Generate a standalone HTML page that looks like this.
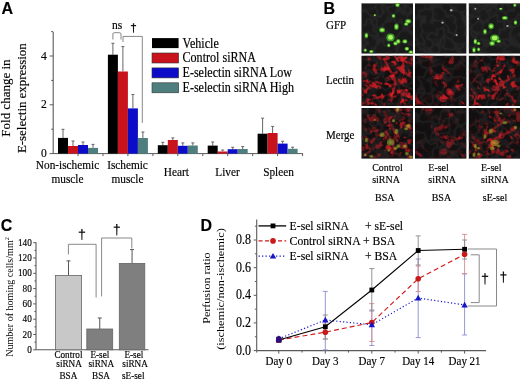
<!DOCTYPE html>
<html><head><meta charset="utf-8"><style>
html,body{margin:0;padding:0;background:#fff;}
svg{display:block;filter:blur(0.3px);}
text{stroke:#000;stroke-width:0.15px;}
</style></head><body>
<svg width="520" height="381" viewBox="0 0 520 381">
<rect width="520" height="381" fill="#fff"/>
<text transform="translate(1.5,14.3) scale(0.1,0.1000)" font-size="160.0" text-anchor="start" font-family="Liberation Sans, sans-serif" font-weight="bold" fill="#000" style="stroke-width:1.50px" >A</text>
<line x1="53.2" y1="32" x2="53.2" y2="154.1" stroke="#5a5a5a" stroke-width="1.1" />
<line x1="49.7" y1="153.6" x2="53.2" y2="153.6" stroke="#5a5a5a" stroke-width="1" />
<text transform="translate(46.8,157.2) scale(0.1,0.1130)" font-size="116.0" text-anchor="end" font-family="Liberation Serif, serif" font-weight="normal" fill="#000" style="stroke-width:1.50px" >0</text>
<line x1="51.2" y1="129.2" x2="53.2" y2="129.2" stroke="#5a5a5a" stroke-width="1" />
<line x1="49.7" y1="104.8" x2="53.2" y2="104.8" stroke="#5a5a5a" stroke-width="1" />
<text transform="translate(46.8,108.39999999999999) scale(0.1,0.1130)" font-size="116.0" text-anchor="end" font-family="Liberation Serif, serif" font-weight="normal" fill="#000" style="stroke-width:1.50px" >2</text>
<line x1="51.2" y1="80.4" x2="53.2" y2="80.4" stroke="#5a5a5a" stroke-width="1" />
<line x1="49.7" y1="56.0" x2="53.2" y2="56.0" stroke="#5a5a5a" stroke-width="1" />
<text transform="translate(46.8,59.6) scale(0.1,0.1130)" font-size="116.0" text-anchor="end" font-family="Liberation Serif, serif" font-weight="normal" fill="#000" style="stroke-width:1.50px" >4</text>
<line x1="51.2" y1="31.599999999999994" x2="53.2" y2="31.599999999999994" stroke="#5a5a5a" stroke-width="1" />
<line x1="53.2" y1="153.6" x2="303" y2="153.6" stroke="#5a5a5a" stroke-width="1" />
<line x1="78.0" y1="153.6" x2="78.0" y2="156.1" stroke="#5a5a5a" stroke-width="1" />
<line x1="103.0" y1="153.6" x2="103.0" y2="156.1" stroke="#5a5a5a" stroke-width="1" />
<line x1="127.9" y1="153.6" x2="127.9" y2="156.1" stroke="#5a5a5a" stroke-width="1" />
<line x1="152.9" y1="153.6" x2="152.9" y2="156.1" stroke="#5a5a5a" stroke-width="1" />
<line x1="177.8" y1="153.6" x2="177.8" y2="156.1" stroke="#5a5a5a" stroke-width="1" />
<line x1="202.8" y1="153.6" x2="202.8" y2="156.1" stroke="#5a5a5a" stroke-width="1" />
<line x1="227.7" y1="153.6" x2="227.7" y2="156.1" stroke="#5a5a5a" stroke-width="1" />
<line x1="252.7" y1="153.6" x2="252.7" y2="156.1" stroke="#5a5a5a" stroke-width="1" />
<line x1="277.6" y1="153.6" x2="277.6" y2="156.1" stroke="#5a5a5a" stroke-width="1" />
<line x1="302.6" y1="153.6" x2="302.6" y2="156.1" stroke="#5a5a5a" stroke-width="1" />
<line x1="63.0" y1="129.3" x2="63.0" y2="137.9" stroke="#666" stroke-width="1" />
<line x1="61.5" y1="129.3" x2="64.5" y2="129.3" stroke="#666" stroke-width="1" />
<rect x="58.0" y="137.9" width="10" height="15.699999999999989" fill="#000000" stroke="none" stroke-width="0"/>
<line x1="73.0" y1="141" x2="73.0" y2="146" stroke="#666" stroke-width="1" />
<line x1="71.5" y1="141" x2="74.5" y2="141" stroke="#666" stroke-width="1" />
<rect x="68.0" y="146" width="10" height="7.599999999999994" fill="#c8121c" stroke="none" stroke-width="0"/>
<line x1="83.0" y1="142" x2="83.0" y2="145" stroke="#666" stroke-width="1" />
<line x1="81.5" y1="142" x2="84.5" y2="142" stroke="#666" stroke-width="1" />
<rect x="78.0" y="145" width="10" height="8.599999999999994" fill="#0c0cc8" stroke="none" stroke-width="0"/>
<line x1="93.0" y1="144.4" x2="93.0" y2="147.9" stroke="#666" stroke-width="1" />
<line x1="91.5" y1="144.4" x2="94.5" y2="144.4" stroke="#666" stroke-width="1" />
<rect x="88.0" y="147.9" width="10" height="5.699999999999989" fill="#4f7e7e" stroke="none" stroke-width="0"/>
<line x1="112.9" y1="43.3" x2="112.9" y2="54.7" stroke="#666" stroke-width="1" />
<line x1="111.4" y1="43.3" x2="114.4" y2="43.3" stroke="#666" stroke-width="1" />
<rect x="107.9" y="54.7" width="10" height="98.89999999999999" fill="#000000" stroke="none" stroke-width="0"/>
<line x1="122.9" y1="46.6" x2="122.9" y2="71.5" stroke="#666" stroke-width="1" />
<line x1="121.4" y1="46.6" x2="124.4" y2="46.6" stroke="#666" stroke-width="1" />
<rect x="117.9" y="71.5" width="10" height="82.1" fill="#c8121c" stroke="none" stroke-width="0"/>
<line x1="132.9" y1="94.5" x2="132.9" y2="108.4" stroke="#666" stroke-width="1" />
<line x1="131.4" y1="94.5" x2="134.4" y2="94.5" stroke="#666" stroke-width="1" />
<rect x="127.9" y="108.4" width="10" height="45.19999999999999" fill="#0c0cc8" stroke="none" stroke-width="0"/>
<line x1="142.9" y1="132" x2="142.9" y2="138" stroke="#666" stroke-width="1" />
<line x1="141.4" y1="132" x2="144.4" y2="132" stroke="#666" stroke-width="1" />
<rect x="137.9" y="138" width="10" height="15.599999999999994" fill="#4f7e7e" stroke="none" stroke-width="0"/>
<line x1="162.8" y1="142.3" x2="162.8" y2="145.2" stroke="#666" stroke-width="1" />
<line x1="161.3" y1="142.3" x2="164.3" y2="142.3" stroke="#666" stroke-width="1" />
<rect x="157.8" y="145.2" width="10" height="8.400000000000006" fill="#000000" stroke="none" stroke-width="0"/>
<line x1="172.8" y1="137.9" x2="172.8" y2="140" stroke="#666" stroke-width="1" />
<line x1="171.3" y1="137.9" x2="174.3" y2="137.9" stroke="#666" stroke-width="1" />
<rect x="167.8" y="140" width="10" height="13.599999999999994" fill="#c8121c" stroke="none" stroke-width="0"/>
<line x1="182.8" y1="142.9" x2="182.8" y2="145.8" stroke="#666" stroke-width="1" />
<line x1="181.3" y1="142.9" x2="184.3" y2="142.9" stroke="#666" stroke-width="1" />
<rect x="177.8" y="145.8" width="10" height="7.799999999999983" fill="#0c0cc8" stroke="none" stroke-width="0"/>
<line x1="192.8" y1="142.9" x2="192.8" y2="145.5" stroke="#666" stroke-width="1" />
<line x1="191.3" y1="142.9" x2="194.3" y2="142.9" stroke="#666" stroke-width="1" />
<rect x="187.8" y="145.5" width="10" height="8.099999999999994" fill="#4f7e7e" stroke="none" stroke-width="0"/>
<line x1="212.7" y1="142" x2="212.7" y2="145.6" stroke="#666" stroke-width="1" />
<line x1="211.2" y1="142" x2="214.2" y2="142" stroke="#666" stroke-width="1" />
<rect x="207.7" y="145.6" width="10" height="8.0" fill="#000000" stroke="none" stroke-width="0"/>
<line x1="222.7" y1="150" x2="222.7" y2="151.5" stroke="#666" stroke-width="1" />
<line x1="221.2" y1="150" x2="224.2" y2="150" stroke="#666" stroke-width="1" />
<rect x="217.7" y="151.5" width="10" height="2.0999999999999943" fill="#c8121c" stroke="none" stroke-width="0"/>
<line x1="232.7" y1="147.3" x2="232.7" y2="149.2" stroke="#666" stroke-width="1" />
<line x1="231.2" y1="147.3" x2="234.2" y2="147.3" stroke="#666" stroke-width="1" />
<rect x="227.7" y="149.2" width="10" height="4.400000000000006" fill="#0c0cc8" stroke="none" stroke-width="0"/>
<line x1="242.7" y1="146.6" x2="242.7" y2="149" stroke="#666" stroke-width="1" />
<line x1="241.2" y1="146.6" x2="244.2" y2="146.6" stroke="#666" stroke-width="1" />
<rect x="237.7" y="149" width="10" height="4.599999999999994" fill="#4f7e7e" stroke="none" stroke-width="0"/>
<line x1="262.6" y1="118.2" x2="262.6" y2="133.7" stroke="#666" stroke-width="1" />
<line x1="261.1" y1="118.2" x2="264.1" y2="118.2" stroke="#666" stroke-width="1" />
<rect x="257.6" y="133.7" width="10" height="19.900000000000006" fill="#000000" stroke="none" stroke-width="0"/>
<line x1="272.6" y1="126.4" x2="272.6" y2="133" stroke="#666" stroke-width="1" />
<line x1="271.1" y1="126.4" x2="274.1" y2="126.4" stroke="#666" stroke-width="1" />
<rect x="267.6" y="133" width="10" height="20.599999999999994" fill="#c8121c" stroke="none" stroke-width="0"/>
<line x1="282.6" y1="141.3" x2="282.6" y2="143.6" stroke="#666" stroke-width="1" />
<line x1="281.1" y1="141.3" x2="284.1" y2="141.3" stroke="#666" stroke-width="1" />
<rect x="277.6" y="143.6" width="10" height="10.0" fill="#0c0cc8" stroke="none" stroke-width="0"/>
<line x1="292.6" y1="147.2" x2="292.6" y2="148.8" stroke="#666" stroke-width="1" />
<line x1="291.1" y1="147.2" x2="294.1" y2="147.2" stroke="#666" stroke-width="1" />
<rect x="287.6" y="148.8" width="10" height="4.799999999999983" fill="#4f7e7e" stroke="none" stroke-width="0"/>
<path d="M112.9,39.5 V34 Q112.9,32.7 114.2,32.7 H119.7 Q121,32.7 121,34 V39.5" fill="none" stroke="#888" stroke-width="1"/>
<path d="M123,42 V36.4 H142.3 V123" fill="none" stroke="#888" stroke-width="1"/>
<text transform="translate(117,28.7) scale(0.1,0.1130)" font-size="115.0" text-anchor="middle" font-family="Liberation Serif, serif" font-weight="normal" fill="#000" style="stroke-width:1.50px" >ns</text>
<path d="M132.85,23.3 H134.15 L133.96,32.8 H133.04 Z" fill="#111"/>
<rect x="130.90" y="25.00" width="5.20" height="1.2" fill="#111"/>
<text transform="translate(67.5,168.5) scale(0.1,0.1130)" font-size="113.0" text-anchor="middle" font-family="Liberation Serif, serif" font-weight="normal" fill="#000" style="stroke-width:1.50px" >Non-ischemic</text>
<text transform="translate(67.5,182.5) scale(0.1,0.1130)" font-size="113.0" text-anchor="middle" font-family="Liberation Serif, serif" font-weight="normal" fill="#000" style="stroke-width:1.50px" >muscle</text>
<text transform="translate(127.5,168.5) scale(0.1,0.1130)" font-size="113.0" text-anchor="middle" font-family="Liberation Serif, serif" font-weight="normal" fill="#000" style="stroke-width:1.50px" >Ischemic</text>
<text transform="translate(127.5,182.5) scale(0.1,0.1130)" font-size="113.0" text-anchor="middle" font-family="Liberation Serif, serif" font-weight="normal" fill="#000" style="stroke-width:1.50px" >muscle</text>
<text transform="translate(176.4,175.5) scale(0.1,0.1130)" font-size="113.0" text-anchor="middle" font-family="Liberation Serif, serif" font-weight="normal" fill="#000" style="stroke-width:1.50px" >Heart</text>
<text transform="translate(227.5,175.5) scale(0.1,0.1130)" font-size="113.0" text-anchor="middle" font-family="Liberation Serif, serif" font-weight="normal" fill="#000" style="stroke-width:1.50px" >Liver</text>
<text transform="translate(278.5,175.5) scale(0.1,0.1130)" font-size="113.0" text-anchor="middle" font-family="Liberation Serif, serif" font-weight="normal" fill="#000" style="stroke-width:1.50px" >Spleen</text>
<text transform="translate(9.9,98.1) scale(0.1,0.1075) rotate(-90)" font-size="121.0" text-anchor="middle" font-family="Liberation Serif, serif" style="stroke-width:1.50px" >Fold change in</text>
<text transform="translate(26.1,98.2) scale(0.1,0.1065) rotate(-90)" font-size="121.0" text-anchor="middle" font-family="Liberation Serif, serif" style="stroke-width:1.50px" >E-selectin expression</text>
<rect x="152" y="38.1" width="26.6" height="10" fill="#000000" stroke="none" stroke-width="0"/>
<text transform="translate(182.5,47.5) scale(0.1,0.1130)" font-size="121.0" text-anchor="start" font-family="Liberation Serif, serif" font-weight="normal" fill="#000" style="stroke-width:1.50px" >Vehicle</text>
<rect x="152" y="53.0" width="26.6" height="10" fill="#c8121c" stroke="#333" stroke-width="0.6"/>
<text transform="translate(182.5,62.4) scale(0.1,0.1130)" font-size="121.0" text-anchor="start" font-family="Liberation Serif, serif" font-weight="normal" fill="#000" style="stroke-width:1.50px" >Control siRNA</text>
<rect x="152" y="67.9" width="26.6" height="10" fill="#0c0cc8" stroke="#333" stroke-width="0.6"/>
<text transform="translate(182.5,77.30000000000001) scale(0.1,0.1130)" font-size="121.0" text-anchor="start" font-family="Liberation Serif, serif" font-weight="normal" fill="#000" style="stroke-width:1.50px" >E-selectin siRNA Low</text>
<rect x="152" y="82.80000000000001" width="26.6" height="10" fill="#4f7e7e" stroke="#333" stroke-width="0.6"/>
<text transform="translate(182.5,92.20000000000002) scale(0.1,0.1130)" font-size="121.0" text-anchor="start" font-family="Liberation Serif, serif" font-weight="normal" fill="#000" style="stroke-width:1.50px" >E-selectin siRNA High</text>
<text transform="translate(323.5,14) scale(0.1,0.1000)" font-size="160.0" text-anchor="start" font-family="Liberation Sans, sans-serif" font-weight="bold" fill="#000" style="stroke-width:1.50px" >B</text>
<text transform="translate(326,29.1) scale(0.1,0.1130)" font-size="110.0" text-anchor="start" font-family="Liberation Serif, serif" font-weight="normal" fill="#000" style="stroke-width:1.50px" >GFP</text>
<text transform="translate(326,84) scale(0.1,0.1130)" font-size="110.0" text-anchor="start" font-family="Liberation Serif, serif" font-weight="normal" fill="#000" style="stroke-width:1.50px" >Lectin</text>
<text transform="translate(326,138.5) scale(0.1,0.1130)" font-size="110.0" text-anchor="start" font-family="Liberation Serif, serif" font-weight="normal" fill="#000" style="stroke-width:1.50px" >Merge</text>
<defs>\n<filter id="soft2" x="-20%" y="-20%" width="140%" height="140%"><feGaussianBlur stdDeviation="0.5"/></filter>\n<filter id="mblur" x="-20%" y="-20%" width="140%" height="140%"><feGaussianBlur stdDeviation="2.2"/></filter>\n<clipPath id="cp00"><rect x="361.3" y="3.2" width="51.7" height="50.5"/></clipPath>\n<clipPath id="cp10"><rect x="361.3" y="55.5" width="51.7" height="50.5"/></clipPath>\n<clipPath id="cp20"><rect x="361.3" y="108" width="51.7" height="50.8"/></clipPath>\n<mask id="mk10" maskUnits="userSpaceOnUse" x="356.3" y="50.5" width="61.7" height="60.5"><g filter="url(#mblur)">\n<rect x="360.8" y="55.0" width="7.5" height="7.3" fill="#fff" opacity="0.55"/>\n<rect x="367.3" y="55.0" width="7.5" height="7.3" fill="#fff" opacity="0.36"/>\n<rect x="373.7" y="55.0" width="7.5" height="7.3" fill="#fff" opacity="0.36"/>\n<rect x="380.2" y="55.0" width="7.5" height="7.3" fill="#fff" opacity="0.73"/>\n<rect x="386.7" y="55.0" width="7.5" height="7.3" fill="#fff" opacity="0.55"/>\n<rect x="393.1" y="55.0" width="7.5" height="7.3" fill="#fff" opacity="0.91"/>\n<rect x="399.6" y="55.0" width="7.5" height="7.3" fill="#fff" opacity="0.91"/>\n<rect x="406.0" y="55.0" width="7.5" height="7.3" fill="#fff" opacity="0.73"/>\n<rect x="360.8" y="61.3" width="7.5" height="7.3" fill="#fff" opacity="0.36"/>\n<rect x="367.3" y="61.3" width="7.5" height="7.3" fill="#fff" opacity="0.55"/>\n<rect x="373.7" y="61.3" width="7.5" height="7.3" fill="#fff" opacity="0.55"/>\n<rect x="380.2" y="61.3" width="7.5" height="7.3" fill="#fff" opacity="0.91"/>\n<rect x="386.7" y="61.3" width="7.5" height="7.3" fill="#fff" opacity="0.73"/>\n<rect x="393.1" y="61.3" width="7.5" height="7.3" fill="#fff" opacity="0.55"/>\n<rect x="399.6" y="61.3" width="7.5" height="7.3" fill="#fff" opacity="0.55"/>\n<rect x="406.0" y="61.3" width="7.5" height="7.3" fill="#fff" opacity="0.73"/>\n<rect x="360.8" y="67.6" width="7.5" height="7.3" fill="#fff" opacity="0.55"/>\n<rect x="367.3" y="67.6" width="7.5" height="7.3" fill="#fff" opacity="0.73"/>\n<rect x="373.7" y="67.6" width="7.5" height="7.3" fill="#fff" opacity="0.36"/>\n<rect x="380.2" y="67.6" width="7.5" height="7.3" fill="#fff" opacity="0.55"/>\n<rect x="386.7" y="67.6" width="7.5" height="7.3" fill="#fff" opacity="0.91"/>\n<rect x="393.1" y="67.6" width="7.5" height="7.3" fill="#fff" opacity="0.55"/>\n<rect x="399.6" y="67.6" width="7.5" height="7.3" fill="#fff" opacity="0.91"/>\n<rect x="406.0" y="67.6" width="7.5" height="7.3" fill="#fff" opacity="0.73"/>\n<rect x="360.8" y="73.9" width="7.5" height="7.3" fill="#fff" opacity="0.36"/>\n<rect x="367.3" y="73.9" width="7.5" height="7.3" fill="#fff" opacity="0.55"/>\n<rect x="373.7" y="73.9" width="7.5" height="7.3" fill="#fff" opacity="0.55"/>\n<rect x="380.2" y="73.9" width="7.5" height="7.3" fill="#fff" opacity="0.55"/>\n<rect x="386.7" y="73.9" width="7.5" height="7.3" fill="#fff" opacity="1.00"/>\n<rect x="393.1" y="73.9" width="7.5" height="7.3" fill="#fff" opacity="0.73"/>\n<rect x="399.6" y="73.9" width="7.5" height="7.3" fill="#fff" opacity="0.55"/>\n<rect x="406.0" y="73.9" width="7.5" height="7.3" fill="#fff" opacity="0.55"/>\n<rect x="360.8" y="80.2" width="7.5" height="7.3" fill="#fff" opacity="0.91"/>\n<rect x="367.3" y="80.2" width="7.5" height="7.3" fill="#fff" opacity="0.55"/>\n<rect x="373.7" y="80.2" width="7.5" height="7.3" fill="#fff" opacity="0.91"/>\n<rect x="380.2" y="80.2" width="7.5" height="7.3" fill="#fff" opacity="0.55"/>\n<rect x="386.7" y="80.2" width="7.5" height="7.3" fill="#fff" opacity="0.91"/>\n<rect x="393.1" y="80.2" width="7.5" height="7.3" fill="#fff" opacity="0.55"/>\n<rect x="399.6" y="80.2" width="7.5" height="7.3" fill="#fff" opacity="0.73"/>\n<rect x="406.0" y="80.2" width="7.5" height="7.3" fill="#fff" opacity="0.73"/>\n<rect x="360.8" y="86.6" width="7.5" height="7.3" fill="#fff" opacity="0.73"/>\n<rect x="367.3" y="86.6" width="7.5" height="7.3" fill="#fff" opacity="0.73"/>\n<rect x="373.7" y="86.6" width="7.5" height="7.3" fill="#fff" opacity="0.55"/>\n<rect x="380.2" y="86.6" width="7.5" height="7.3" fill="#fff" opacity="0.73"/>\n<rect x="386.7" y="86.6" width="7.5" height="7.3" fill="#fff" opacity="0.91"/>\n<rect x="393.1" y="86.6" width="7.5" height="7.3" fill="#fff" opacity="0.73"/>\n<rect x="399.6" y="86.6" width="7.5" height="7.3" fill="#fff" opacity="1.00"/>\n<rect x="406.0" y="86.6" width="7.5" height="7.3" fill="#fff" opacity="0.73"/>\n<rect x="360.8" y="92.9" width="7.5" height="7.3" fill="#fff" opacity="0.55"/>\n<rect x="367.3" y="92.9" width="7.5" height="7.3" fill="#fff" opacity="0.91"/>\n<rect x="373.7" y="92.9" width="7.5" height="7.3" fill="#fff" opacity="0.55"/>\n<rect x="380.2" y="92.9" width="7.5" height="7.3" fill="#fff" opacity="0.73"/>\n<rect x="386.7" y="92.9" width="7.5" height="7.3" fill="#fff" opacity="1.00"/>\n<rect x="393.1" y="92.9" width="7.5" height="7.3" fill="#fff" opacity="0.73"/>\n<rect x="399.6" y="92.9" width="7.5" height="7.3" fill="#fff" opacity="1.00"/>\n<rect x="406.0" y="92.9" width="7.5" height="7.3" fill="#fff" opacity="0.73"/>\n<rect x="360.8" y="99.2" width="7.5" height="7.3" fill="#fff" opacity="0.73"/>\n<rect x="367.3" y="99.2" width="7.5" height="7.3" fill="#fff" opacity="0.55"/>\n<rect x="373.7" y="99.2" width="7.5" height="7.3" fill="#fff" opacity="0.73"/>\n<rect x="380.2" y="99.2" width="7.5" height="7.3" fill="#fff" opacity="0.55"/>\n<rect x="386.7" y="99.2" width="7.5" height="7.3" fill="#fff" opacity="0.55"/>\n<rect x="393.1" y="99.2" width="7.5" height="7.3" fill="#fff" opacity="0.55"/>\n<rect x="399.6" y="99.2" width="7.5" height="7.3" fill="#fff" opacity="0.73"/>\n<rect x="406.0" y="99.2" width="7.5" height="7.3" fill="#fff" opacity="0.91"/>\n</g></mask>\n<mask id="mk20" maskUnits="userSpaceOnUse" x="356.3" y="103" width="61.7" height="60.8"><g filter="url(#mblur)">\n<rect x="360.8" y="107.5" width="7.5" height="7.3" fill="#fff" opacity="0.37"/>\n<rect x="367.3" y="107.5" width="7.5" height="7.3" fill="#fff" opacity="0.25"/>\n<rect x="373.7" y="107.5" width="7.5" height="7.3" fill="#fff" opacity="0.25"/>\n<rect x="380.2" y="107.5" width="7.5" height="7.3" fill="#fff" opacity="0.49"/>\n<rect x="386.7" y="107.5" width="7.5" height="7.3" fill="#fff" opacity="0.37"/>\n<rect x="393.1" y="107.5" width="7.5" height="7.3" fill="#fff" opacity="0.62"/>\n<rect x="399.6" y="107.5" width="7.5" height="7.3" fill="#fff" opacity="0.62"/>\n<rect x="406.0" y="107.5" width="7.5" height="7.3" fill="#fff" opacity="0.49"/>\n<rect x="360.8" y="113.8" width="7.5" height="7.3" fill="#fff" opacity="0.25"/>\n<rect x="367.3" y="113.8" width="7.5" height="7.3" fill="#fff" opacity="0.37"/>\n<rect x="373.7" y="113.8" width="7.5" height="7.3" fill="#fff" opacity="0.37"/>\n<rect x="380.2" y="113.8" width="7.5" height="7.3" fill="#fff" opacity="0.62"/>\n<rect x="386.7" y="113.8" width="7.5" height="7.3" fill="#fff" opacity="0.49"/>\n<rect x="393.1" y="113.8" width="7.5" height="7.3" fill="#fff" opacity="0.37"/>\n<rect x="399.6" y="113.8" width="7.5" height="7.3" fill="#fff" opacity="0.37"/>\n<rect x="406.0" y="113.8" width="7.5" height="7.3" fill="#fff" opacity="0.49"/>\n<rect x="360.8" y="120.2" width="7.5" height="7.3" fill="#fff" opacity="0.37"/>\n<rect x="367.3" y="120.2" width="7.5" height="7.3" fill="#fff" opacity="0.49"/>\n<rect x="373.7" y="120.2" width="7.5" height="7.3" fill="#fff" opacity="0.25"/>\n<rect x="380.2" y="120.2" width="7.5" height="7.3" fill="#fff" opacity="0.37"/>\n<rect x="386.7" y="120.2" width="7.5" height="7.3" fill="#fff" opacity="0.62"/>\n<rect x="393.1" y="120.2" width="7.5" height="7.3" fill="#fff" opacity="0.37"/>\n<rect x="399.6" y="120.2" width="7.5" height="7.3" fill="#fff" opacity="0.62"/>\n<rect x="406.0" y="120.2" width="7.5" height="7.3" fill="#fff" opacity="0.49"/>\n<rect x="360.8" y="126.5" width="7.5" height="7.3" fill="#fff" opacity="0.25"/>\n<rect x="367.3" y="126.5" width="7.5" height="7.3" fill="#fff" opacity="0.37"/>\n<rect x="373.7" y="126.5" width="7.5" height="7.3" fill="#fff" opacity="0.37"/>\n<rect x="380.2" y="126.5" width="7.5" height="7.3" fill="#fff" opacity="0.37"/>\n<rect x="386.7" y="126.5" width="7.5" height="7.3" fill="#fff" opacity="0.74"/>\n<rect x="393.1" y="126.5" width="7.5" height="7.3" fill="#fff" opacity="0.49"/>\n<rect x="399.6" y="126.5" width="7.5" height="7.3" fill="#fff" opacity="0.37"/>\n<rect x="406.0" y="126.5" width="7.5" height="7.3" fill="#fff" opacity="0.37"/>\n<rect x="360.8" y="132.9" width="7.5" height="7.3" fill="#fff" opacity="0.62"/>\n<rect x="367.3" y="132.9" width="7.5" height="7.3" fill="#fff" opacity="0.37"/>\n<rect x="373.7" y="132.9" width="7.5" height="7.3" fill="#fff" opacity="0.62"/>\n<rect x="380.2" y="132.9" width="7.5" height="7.3" fill="#fff" opacity="0.37"/>\n<rect x="386.7" y="132.9" width="7.5" height="7.3" fill="#fff" opacity="0.62"/>\n<rect x="393.1" y="132.9" width="7.5" height="7.3" fill="#fff" opacity="0.37"/>\n<rect x="399.6" y="132.9" width="7.5" height="7.3" fill="#fff" opacity="0.49"/>\n<rect x="406.0" y="132.9" width="7.5" height="7.3" fill="#fff" opacity="0.49"/>\n<rect x="360.8" y="139.2" width="7.5" height="7.3" fill="#fff" opacity="0.49"/>\n<rect x="367.3" y="139.2" width="7.5" height="7.3" fill="#fff" opacity="0.49"/>\n<rect x="373.7" y="139.2" width="7.5" height="7.3" fill="#fff" opacity="0.37"/>\n<rect x="380.2" y="139.2" width="7.5" height="7.3" fill="#fff" opacity="0.49"/>\n<rect x="386.7" y="139.2" width="7.5" height="7.3" fill="#fff" opacity="0.62"/>\n<rect x="393.1" y="139.2" width="7.5" height="7.3" fill="#fff" opacity="0.49"/>\n<rect x="399.6" y="139.2" width="7.5" height="7.3" fill="#fff" opacity="0.74"/>\n<rect x="406.0" y="139.2" width="7.5" height="7.3" fill="#fff" opacity="0.49"/>\n<rect x="360.8" y="145.6" width="7.5" height="7.3" fill="#fff" opacity="0.37"/>\n<rect x="367.3" y="145.6" width="7.5" height="7.3" fill="#fff" opacity="0.62"/>\n<rect x="373.7" y="145.6" width="7.5" height="7.3" fill="#fff" opacity="0.37"/>\n<rect x="380.2" y="145.6" width="7.5" height="7.3" fill="#fff" opacity="0.49"/>\n<rect x="386.7" y="145.6" width="7.5" height="7.3" fill="#fff" opacity="0.74"/>\n<rect x="393.1" y="145.6" width="7.5" height="7.3" fill="#fff" opacity="0.49"/>\n<rect x="399.6" y="145.6" width="7.5" height="7.3" fill="#fff" opacity="0.74"/>\n<rect x="406.0" y="145.6" width="7.5" height="7.3" fill="#fff" opacity="0.49"/>\n<rect x="360.8" y="151.9" width="7.5" height="7.3" fill="#fff" opacity="0.49"/>\n<rect x="367.3" y="151.9" width="7.5" height="7.3" fill="#fff" opacity="0.37"/>\n<rect x="373.7" y="151.9" width="7.5" height="7.3" fill="#fff" opacity="0.49"/>\n<rect x="380.2" y="151.9" width="7.5" height="7.3" fill="#fff" opacity="0.37"/>\n<rect x="386.7" y="151.9" width="7.5" height="7.3" fill="#fff" opacity="0.37"/>\n<rect x="393.1" y="151.9" width="7.5" height="7.3" fill="#fff" opacity="0.37"/>\n<rect x="399.6" y="151.9" width="7.5" height="7.3" fill="#fff" opacity="0.49"/>\n<rect x="406.0" y="151.9" width="7.5" height="7.3" fill="#fff" opacity="0.62"/>\n</g></mask>\n<filter id="net0" x="0" y="0" width="100%" height="100%" color-interpolation-filters="sRGB">
<feTurbulence type="fractalNoise" baseFrequency="0.072" numOctaves="3" seed="3"/>
<feColorMatrix type="matrix" values="0 0 0 0 0.92  0 0 0 0 0.12  0 0 0 0 0.15  1 0 0 0 0"/>
<feComponentTransfer result="ridge"><feFuncA type="table" tableValues="0 0 0 0 0 0 0 0 0.3 1 1 1 1 0.3 0 0 0 0 0 0 0 0"/></feComponentTransfer>
<feTurbulence type="fractalNoise" baseFrequency="0.18" numOctaves="2" seed="5" result="t2"/>
<feColorMatrix in="t2" type="matrix" values="0 0 0 0 0  0 0 0 0 0  0 0 0 0 0  6 0 0 0 -2.75" result="brk"/>
<feComposite in="ridge" in2="brk" operator="in"/>
<feGaussianBlur stdDeviation="0.2"/>
</filter>
<filter id="cell0" x="0" y="0" width="100%" height="100%" color-interpolation-filters="sRGB">
<feTurbulence type="fractalNoise" baseFrequency="0.09" numOctaves="2" seed="11"/>
<feColorMatrix type="matrix" values="0 0 0 0 0.26  0 0 0 0 0.26  0 0 0 0 0.28  1 0 0 0 0"/>
<feComponentTransfer><feFuncA type="table" tableValues="0 0 0 0 0.06 0.32 0.06 0 0 0 0"/></feComponentTransfer>
</filter>
<filter id="mot0" x="-5%" y="-5%" width="110%" height="110%" color-interpolation-filters="sRGB">
<feTurbulence type="fractalNoise" baseFrequency="0.3" numOctaves="2" seed="2" result="n"/>
<feColorMatrix in="n" type="matrix" values="0 0 0 0 0  0 0 0 0 0  0 0 0 0 0  2.4 0 0 0 -0.35" result="m"/>
<feComposite in="SourceGraphic" in2="m" operator="in" result="c"/>
<feGaussianBlur in="c" stdDeviation="0.5"/>
</filter>\n<clipPath id="cp01"><rect x="415" y="3.2" width="51.6" height="50.5"/></clipPath>\n<clipPath id="cp11"><rect x="415" y="55.5" width="51.6" height="50.5"/></clipPath>\n<clipPath id="cp21"><rect x="415" y="108" width="51.6" height="50.8"/></clipPath>\n<mask id="mk11" maskUnits="userSpaceOnUse" x="410" y="50.5" width="61.6" height="60.5"><g filter="url(#mblur)">\n<rect x="414.5" y="55.0" width="7.5" height="7.3" fill="#fff" opacity="0.00"/>\n<rect x="420.9" y="55.0" width="7.5" height="7.3" fill="#fff" opacity="0.36"/>\n<rect x="427.4" y="55.0" width="7.5" height="7.3" fill="#fff" opacity="0.36"/>\n<rect x="433.9" y="55.0" width="7.5" height="7.3" fill="#fff" opacity="0.00"/>\n<rect x="440.3" y="55.0" width="7.5" height="7.3" fill="#fff" opacity="0.00"/>\n<rect x="446.8" y="55.0" width="7.5" height="7.3" fill="#fff" opacity="0.55"/>\n<rect x="453.2" y="55.0" width="7.5" height="7.3" fill="#fff" opacity="0.18"/>\n<rect x="459.6" y="55.0" width="7.5" height="7.3" fill="#fff" opacity="0.00"/>\n<rect x="414.5" y="61.3" width="7.5" height="7.3" fill="#fff" opacity="0.00"/>\n<rect x="420.9" y="61.3" width="7.5" height="7.3" fill="#fff" opacity="0.00"/>\n<rect x="427.4" y="61.3" width="7.5" height="7.3" fill="#fff" opacity="0.00"/>\n<rect x="433.9" y="61.3" width="7.5" height="7.3" fill="#fff" opacity="0.00"/>\n<rect x="440.3" y="61.3" width="7.5" height="7.3" fill="#fff" opacity="0.18"/>\n<rect x="446.8" y="61.3" width="7.5" height="7.3" fill="#fff" opacity="0.36"/>\n<rect x="453.2" y="61.3" width="7.5" height="7.3" fill="#fff" opacity="0.18"/>\n<rect x="459.6" y="61.3" width="7.5" height="7.3" fill="#fff" opacity="0.00"/>\n<rect x="414.5" y="67.6" width="7.5" height="7.3" fill="#fff" opacity="0.00"/>\n<rect x="420.9" y="67.6" width="7.5" height="7.3" fill="#fff" opacity="0.00"/>\n<rect x="427.4" y="67.6" width="7.5" height="7.3" fill="#fff" opacity="0.36"/>\n<rect x="433.9" y="67.6" width="7.5" height="7.3" fill="#fff" opacity="0.36"/>\n<rect x="440.3" y="67.6" width="7.5" height="7.3" fill="#fff" opacity="0.55"/>\n<rect x="446.8" y="67.6" width="7.5" height="7.3" fill="#fff" opacity="0.00"/>\n<rect x="453.2" y="67.6" width="7.5" height="7.3" fill="#fff" opacity="0.00"/>\n<rect x="459.6" y="67.6" width="7.5" height="7.3" fill="#fff" opacity="0.00"/>\n<rect x="414.5" y="73.9" width="7.5" height="7.3" fill="#fff" opacity="0.00"/>\n<rect x="420.9" y="73.9" width="7.5" height="7.3" fill="#fff" opacity="0.00"/>\n<rect x="427.4" y="73.9" width="7.5" height="7.3" fill="#fff" opacity="0.00"/>\n<rect x="433.9" y="73.9" width="7.5" height="7.3" fill="#fff" opacity="0.91"/>\n<rect x="440.3" y="73.9" width="7.5" height="7.3" fill="#fff" opacity="0.73"/>\n<rect x="446.8" y="73.9" width="7.5" height="7.3" fill="#fff" opacity="0.18"/>\n<rect x="453.2" y="73.9" width="7.5" height="7.3" fill="#fff" opacity="0.00"/>\n<rect x="459.6" y="73.9" width="7.5" height="7.3" fill="#fff" opacity="0.00"/>\n<rect x="414.5" y="80.2" width="7.5" height="7.3" fill="#fff" opacity="0.00"/>\n<rect x="420.9" y="80.2" width="7.5" height="7.3" fill="#fff" opacity="0.00"/>\n<rect x="427.4" y="80.2" width="7.5" height="7.3" fill="#fff" opacity="0.00"/>\n<rect x="433.9" y="80.2" width="7.5" height="7.3" fill="#fff" opacity="0.18"/>\n<rect x="440.3" y="80.2" width="7.5" height="7.3" fill="#fff" opacity="0.55"/>\n<rect x="446.8" y="80.2" width="7.5" height="7.3" fill="#fff" opacity="0.18"/>\n<rect x="453.2" y="80.2" width="7.5" height="7.3" fill="#fff" opacity="0.55"/>\n<rect x="459.6" y="80.2" width="7.5" height="7.3" fill="#fff" opacity="0.55"/>\n<rect x="414.5" y="86.6" width="7.5" height="7.3" fill="#fff" opacity="0.18"/>\n<rect x="420.9" y="86.6" width="7.5" height="7.3" fill="#fff" opacity="0.00"/>\n<rect x="427.4" y="86.6" width="7.5" height="7.3" fill="#fff" opacity="0.00"/>\n<rect x="433.9" y="86.6" width="7.5" height="7.3" fill="#fff" opacity="0.18"/>\n<rect x="440.3" y="86.6" width="7.5" height="7.3" fill="#fff" opacity="0.36"/>\n<rect x="446.8" y="86.6" width="7.5" height="7.3" fill="#fff" opacity="0.73"/>\n<rect x="453.2" y="86.6" width="7.5" height="7.3" fill="#fff" opacity="0.36"/>\n<rect x="459.6" y="86.6" width="7.5" height="7.3" fill="#fff" opacity="0.18"/>\n<rect x="414.5" y="92.9" width="7.5" height="7.3" fill="#fff" opacity="0.55"/>\n<rect x="420.9" y="92.9" width="7.5" height="7.3" fill="#fff" opacity="0.18"/>\n<rect x="427.4" y="92.9" width="7.5" height="7.3" fill="#fff" opacity="0.00"/>\n<rect x="433.9" y="92.9" width="7.5" height="7.3" fill="#fff" opacity="0.36"/>\n<rect x="440.3" y="92.9" width="7.5" height="7.3" fill="#fff" opacity="0.73"/>\n<rect x="446.8" y="92.9" width="7.5" height="7.3" fill="#fff" opacity="0.36"/>\n<rect x="453.2" y="92.9" width="7.5" height="7.3" fill="#fff" opacity="0.00"/>\n<rect x="459.6" y="92.9" width="7.5" height="7.3" fill="#fff" opacity="0.18"/>\n<rect x="414.5" y="99.2" width="7.5" height="7.3" fill="#fff" opacity="0.55"/>\n<rect x="420.9" y="99.2" width="7.5" height="7.3" fill="#fff" opacity="0.18"/>\n<rect x="427.4" y="99.2" width="7.5" height="7.3" fill="#fff" opacity="0.00"/>\n<rect x="433.9" y="99.2" width="7.5" height="7.3" fill="#fff" opacity="0.18"/>\n<rect x="440.3" y="99.2" width="7.5" height="7.3" fill="#fff" opacity="0.36"/>\n<rect x="446.8" y="99.2" width="7.5" height="7.3" fill="#fff" opacity="0.18"/>\n<rect x="453.2" y="99.2" width="7.5" height="7.3" fill="#fff" opacity="0.00"/>\n<rect x="459.6" y="99.2" width="7.5" height="7.3" fill="#fff" opacity="0.36"/>\n</g></mask>\n<mask id="mk21" maskUnits="userSpaceOnUse" x="410" y="103" width="61.6" height="60.8"><g filter="url(#mblur)">\n<rect x="414.5" y="107.5" width="7.5" height="7.3" fill="#fff" opacity="0.00"/>\n<rect x="420.9" y="107.5" width="7.5" height="7.3" fill="#fff" opacity="0.25"/>\n<rect x="427.4" y="107.5" width="7.5" height="7.3" fill="#fff" opacity="0.25"/>\n<rect x="433.9" y="107.5" width="7.5" height="7.3" fill="#fff" opacity="0.00"/>\n<rect x="440.3" y="107.5" width="7.5" height="7.3" fill="#fff" opacity="0.00"/>\n<rect x="446.8" y="107.5" width="7.5" height="7.3" fill="#fff" opacity="0.37"/>\n<rect x="453.2" y="107.5" width="7.5" height="7.3" fill="#fff" opacity="0.12"/>\n<rect x="459.6" y="107.5" width="7.5" height="7.3" fill="#fff" opacity="0.00"/>\n<rect x="414.5" y="113.8" width="7.5" height="7.3" fill="#fff" opacity="0.00"/>\n<rect x="420.9" y="113.8" width="7.5" height="7.3" fill="#fff" opacity="0.00"/>\n<rect x="427.4" y="113.8" width="7.5" height="7.3" fill="#fff" opacity="0.00"/>\n<rect x="433.9" y="113.8" width="7.5" height="7.3" fill="#fff" opacity="0.00"/>\n<rect x="440.3" y="113.8" width="7.5" height="7.3" fill="#fff" opacity="0.12"/>\n<rect x="446.8" y="113.8" width="7.5" height="7.3" fill="#fff" opacity="0.25"/>\n<rect x="453.2" y="113.8" width="7.5" height="7.3" fill="#fff" opacity="0.12"/>\n<rect x="459.6" y="113.8" width="7.5" height="7.3" fill="#fff" opacity="0.00"/>\n<rect x="414.5" y="120.2" width="7.5" height="7.3" fill="#fff" opacity="0.00"/>\n<rect x="420.9" y="120.2" width="7.5" height="7.3" fill="#fff" opacity="0.00"/>\n<rect x="427.4" y="120.2" width="7.5" height="7.3" fill="#fff" opacity="0.25"/>\n<rect x="433.9" y="120.2" width="7.5" height="7.3" fill="#fff" opacity="0.25"/>\n<rect x="440.3" y="120.2" width="7.5" height="7.3" fill="#fff" opacity="0.37"/>\n<rect x="446.8" y="120.2" width="7.5" height="7.3" fill="#fff" opacity="0.00"/>\n<rect x="453.2" y="120.2" width="7.5" height="7.3" fill="#fff" opacity="0.00"/>\n<rect x="459.6" y="120.2" width="7.5" height="7.3" fill="#fff" opacity="0.00"/>\n<rect x="414.5" y="126.5" width="7.5" height="7.3" fill="#fff" opacity="0.00"/>\n<rect x="420.9" y="126.5" width="7.5" height="7.3" fill="#fff" opacity="0.00"/>\n<rect x="427.4" y="126.5" width="7.5" height="7.3" fill="#fff" opacity="0.00"/>\n<rect x="433.9" y="126.5" width="7.5" height="7.3" fill="#fff" opacity="0.62"/>\n<rect x="440.3" y="126.5" width="7.5" height="7.3" fill="#fff" opacity="0.49"/>\n<rect x="446.8" y="126.5" width="7.5" height="7.3" fill="#fff" opacity="0.12"/>\n<rect x="453.2" y="126.5" width="7.5" height="7.3" fill="#fff" opacity="0.00"/>\n<rect x="459.6" y="126.5" width="7.5" height="7.3" fill="#fff" opacity="0.00"/>\n<rect x="414.5" y="132.9" width="7.5" height="7.3" fill="#fff" opacity="0.00"/>\n<rect x="420.9" y="132.9" width="7.5" height="7.3" fill="#fff" opacity="0.00"/>\n<rect x="427.4" y="132.9" width="7.5" height="7.3" fill="#fff" opacity="0.00"/>\n<rect x="433.9" y="132.9" width="7.5" height="7.3" fill="#fff" opacity="0.12"/>\n<rect x="440.3" y="132.9" width="7.5" height="7.3" fill="#fff" opacity="0.37"/>\n<rect x="446.8" y="132.9" width="7.5" height="7.3" fill="#fff" opacity="0.12"/>\n<rect x="453.2" y="132.9" width="7.5" height="7.3" fill="#fff" opacity="0.37"/>\n<rect x="459.6" y="132.9" width="7.5" height="7.3" fill="#fff" opacity="0.37"/>\n<rect x="414.5" y="139.2" width="7.5" height="7.3" fill="#fff" opacity="0.12"/>\n<rect x="420.9" y="139.2" width="7.5" height="7.3" fill="#fff" opacity="0.00"/>\n<rect x="427.4" y="139.2" width="7.5" height="7.3" fill="#fff" opacity="0.00"/>\n<rect x="433.9" y="139.2" width="7.5" height="7.3" fill="#fff" opacity="0.12"/>\n<rect x="440.3" y="139.2" width="7.5" height="7.3" fill="#fff" opacity="0.25"/>\n<rect x="446.8" y="139.2" width="7.5" height="7.3" fill="#fff" opacity="0.49"/>\n<rect x="453.2" y="139.2" width="7.5" height="7.3" fill="#fff" opacity="0.25"/>\n<rect x="459.6" y="139.2" width="7.5" height="7.3" fill="#fff" opacity="0.12"/>\n<rect x="414.5" y="145.6" width="7.5" height="7.3" fill="#fff" opacity="0.37"/>\n<rect x="420.9" y="145.6" width="7.5" height="7.3" fill="#fff" opacity="0.12"/>\n<rect x="427.4" y="145.6" width="7.5" height="7.3" fill="#fff" opacity="0.00"/>\n<rect x="433.9" y="145.6" width="7.5" height="7.3" fill="#fff" opacity="0.25"/>\n<rect x="440.3" y="145.6" width="7.5" height="7.3" fill="#fff" opacity="0.49"/>\n<rect x="446.8" y="145.6" width="7.5" height="7.3" fill="#fff" opacity="0.25"/>\n<rect x="453.2" y="145.6" width="7.5" height="7.3" fill="#fff" opacity="0.00"/>\n<rect x="459.6" y="145.6" width="7.5" height="7.3" fill="#fff" opacity="0.12"/>\n<rect x="414.5" y="151.9" width="7.5" height="7.3" fill="#fff" opacity="0.37"/>\n<rect x="420.9" y="151.9" width="7.5" height="7.3" fill="#fff" opacity="0.12"/>\n<rect x="427.4" y="151.9" width="7.5" height="7.3" fill="#fff" opacity="0.00"/>\n<rect x="433.9" y="151.9" width="7.5" height="7.3" fill="#fff" opacity="0.12"/>\n<rect x="440.3" y="151.9" width="7.5" height="7.3" fill="#fff" opacity="0.25"/>\n<rect x="446.8" y="151.9" width="7.5" height="7.3" fill="#fff" opacity="0.12"/>\n<rect x="453.2" y="151.9" width="7.5" height="7.3" fill="#fff" opacity="0.00"/>\n<rect x="459.6" y="151.9" width="7.5" height="7.3" fill="#fff" opacity="0.25"/>\n</g></mask>\n<filter id="net1" x="0" y="0" width="100%" height="100%" color-interpolation-filters="sRGB">
<feTurbulence type="fractalNoise" baseFrequency="0.072" numOctaves="3" seed="10"/>
<feColorMatrix type="matrix" values="0 0 0 0 0.92  0 0 0 0 0.12  0 0 0 0 0.15  1 0 0 0 0"/>
<feComponentTransfer result="ridge"><feFuncA type="table" tableValues="0 0 0 0 0 0 0 0 0.3 1 1 1 1 0.3 0 0 0 0 0 0 0 0"/></feComponentTransfer>
<feTurbulence type="fractalNoise" baseFrequency="0.18" numOctaves="2" seed="12" result="t2"/>
<feColorMatrix in="t2" type="matrix" values="0 0 0 0 0  0 0 0 0 0  0 0 0 0 0  6 0 0 0 -2.75" result="brk"/>
<feComposite in="ridge" in2="brk" operator="in"/>
<feGaussianBlur stdDeviation="0.2"/>
</filter>
<filter id="cell1" x="0" y="0" width="100%" height="100%" color-interpolation-filters="sRGB">
<feTurbulence type="fractalNoise" baseFrequency="0.09" numOctaves="2" seed="16"/>
<feColorMatrix type="matrix" values="0 0 0 0 0.26  0 0 0 0 0.26  0 0 0 0 0.28  1 0 0 0 0"/>
<feComponentTransfer><feFuncA type="table" tableValues="0 0 0 0 0.06 0.32 0.06 0 0 0 0"/></feComponentTransfer>
</filter>
<filter id="mot1" x="-5%" y="-5%" width="110%" height="110%" color-interpolation-filters="sRGB">
<feTurbulence type="fractalNoise" baseFrequency="0.3" numOctaves="2" seed="5" result="n"/>
<feColorMatrix in="n" type="matrix" values="0 0 0 0 0  0 0 0 0 0  0 0 0 0 0  2.4 0 0 0 -0.35" result="m"/>
<feComposite in="SourceGraphic" in2="m" operator="in" result="c"/>
<feGaussianBlur in="c" stdDeviation="0.5"/>
</filter>\n<clipPath id="cp02"><rect x="468.6" y="3.2" width="51.4" height="50.5"/></clipPath>\n<clipPath id="cp12"><rect x="468.6" y="55.5" width="51.4" height="50.5"/></clipPath>\n<clipPath id="cp22"><rect x="468.6" y="108" width="51.4" height="50.8"/></clipPath>\n<mask id="mk12" maskUnits="userSpaceOnUse" x="463.6" y="50.5" width="61.4" height="60.5"><g filter="url(#mblur)">\n<rect x="468.1" y="55.0" width="7.4" height="7.3" fill="#fff" opacity="0.18"/>\n<rect x="474.5" y="55.0" width="7.4" height="7.3" fill="#fff" opacity="0.36"/>\n<rect x="481.0" y="55.0" width="7.4" height="7.3" fill="#fff" opacity="0.73"/>\n<rect x="487.4" y="55.0" width="7.4" height="7.3" fill="#fff" opacity="0.55"/>\n<rect x="493.8" y="55.0" width="7.4" height="7.3" fill="#fff" opacity="0.73"/>\n<rect x="500.2" y="55.0" width="7.4" height="7.3" fill="#fff" opacity="0.73"/>\n<rect x="506.7" y="55.0" width="7.4" height="7.3" fill="#fff" opacity="0.55"/>\n<rect x="513.1" y="55.0" width="7.4" height="7.3" fill="#fff" opacity="0.55"/>\n<rect x="468.1" y="61.3" width="7.4" height="7.3" fill="#fff" opacity="0.18"/>\n<rect x="474.5" y="61.3" width="7.4" height="7.3" fill="#fff" opacity="0.36"/>\n<rect x="481.0" y="61.3" width="7.4" height="7.3" fill="#fff" opacity="0.55"/>\n<rect x="487.4" y="61.3" width="7.4" height="7.3" fill="#fff" opacity="0.73"/>\n<rect x="493.8" y="61.3" width="7.4" height="7.3" fill="#fff" opacity="0.55"/>\n<rect x="500.2" y="61.3" width="7.4" height="7.3" fill="#fff" opacity="0.73"/>\n<rect x="506.7" y="61.3" width="7.4" height="7.3" fill="#fff" opacity="0.55"/>\n<rect x="513.1" y="61.3" width="7.4" height="7.3" fill="#fff" opacity="0.73"/>\n<rect x="468.1" y="67.6" width="7.4" height="7.3" fill="#fff" opacity="0.18"/>\n<rect x="474.5" y="67.6" width="7.4" height="7.3" fill="#fff" opacity="0.36"/>\n<rect x="481.0" y="67.6" width="7.4" height="7.3" fill="#fff" opacity="0.36"/>\n<rect x="487.4" y="67.6" width="7.4" height="7.3" fill="#fff" opacity="0.55"/>\n<rect x="493.8" y="67.6" width="7.4" height="7.3" fill="#fff" opacity="0.91"/>\n<rect x="500.2" y="67.6" width="7.4" height="7.3" fill="#fff" opacity="0.91"/>\n<rect x="506.7" y="67.6" width="7.4" height="7.3" fill="#fff" opacity="0.55"/>\n<rect x="513.1" y="67.6" width="7.4" height="7.3" fill="#fff" opacity="0.73"/>\n<rect x="468.1" y="73.9" width="7.4" height="7.3" fill="#fff" opacity="0.18"/>\n<rect x="474.5" y="73.9" width="7.4" height="7.3" fill="#fff" opacity="0.36"/>\n<rect x="481.0" y="73.9" width="7.4" height="7.3" fill="#fff" opacity="0.55"/>\n<rect x="487.4" y="73.9" width="7.4" height="7.3" fill="#fff" opacity="0.91"/>\n<rect x="493.8" y="73.9" width="7.4" height="7.3" fill="#fff" opacity="0.91"/>\n<rect x="500.2" y="73.9" width="7.4" height="7.3" fill="#fff" opacity="0.55"/>\n<rect x="506.7" y="73.9" width="7.4" height="7.3" fill="#fff" opacity="0.36"/>\n<rect x="513.1" y="73.9" width="7.4" height="7.3" fill="#fff" opacity="0.55"/>\n<rect x="468.1" y="80.2" width="7.4" height="7.3" fill="#fff" opacity="0.36"/>\n<rect x="474.5" y="80.2" width="7.4" height="7.3" fill="#fff" opacity="0.36"/>\n<rect x="481.0" y="80.2" width="7.4" height="7.3" fill="#fff" opacity="0.91"/>\n<rect x="487.4" y="80.2" width="7.4" height="7.3" fill="#fff" opacity="0.73"/>\n<rect x="493.8" y="80.2" width="7.4" height="7.3" fill="#fff" opacity="0.91"/>\n<rect x="500.2" y="80.2" width="7.4" height="7.3" fill="#fff" opacity="0.73"/>\n<rect x="506.7" y="80.2" width="7.4" height="7.3" fill="#fff" opacity="0.91"/>\n<rect x="513.1" y="80.2" width="7.4" height="7.3" fill="#fff" opacity="0.55"/>\n<rect x="468.1" y="86.6" width="7.4" height="7.3" fill="#fff" opacity="0.73"/>\n<rect x="474.5" y="86.6" width="7.4" height="7.3" fill="#fff" opacity="0.55"/>\n<rect x="481.0" y="86.6" width="7.4" height="7.3" fill="#fff" opacity="0.55"/>\n<rect x="487.4" y="86.6" width="7.4" height="7.3" fill="#fff" opacity="1.00"/>\n<rect x="493.8" y="86.6" width="7.4" height="7.3" fill="#fff" opacity="1.00"/>\n<rect x="500.2" y="86.6" width="7.4" height="7.3" fill="#fff" opacity="0.91"/>\n<rect x="506.7" y="86.6" width="7.4" height="7.3" fill="#fff" opacity="0.55"/>\n<rect x="513.1" y="86.6" width="7.4" height="7.3" fill="#fff" opacity="0.55"/>\n<rect x="468.1" y="92.9" width="7.4" height="7.3" fill="#fff" opacity="0.73"/>\n<rect x="474.5" y="92.9" width="7.4" height="7.3" fill="#fff" opacity="0.73"/>\n<rect x="481.0" y="92.9" width="7.4" height="7.3" fill="#fff" opacity="0.55"/>\n<rect x="487.4" y="92.9" width="7.4" height="7.3" fill="#fff" opacity="0.73"/>\n<rect x="493.8" y="92.9" width="7.4" height="7.3" fill="#fff" opacity="0.91"/>\n<rect x="500.2" y="92.9" width="7.4" height="7.3" fill="#fff" opacity="0.55"/>\n<rect x="506.7" y="92.9" width="7.4" height="7.3" fill="#fff" opacity="0.73"/>\n<rect x="513.1" y="92.9" width="7.4" height="7.3" fill="#fff" opacity="0.36"/>\n<rect x="468.1" y="99.2" width="7.4" height="7.3" fill="#fff" opacity="0.55"/>\n<rect x="474.5" y="99.2" width="7.4" height="7.3" fill="#fff" opacity="0.91"/>\n<rect x="481.0" y="99.2" width="7.4" height="7.3" fill="#fff" opacity="0.36"/>\n<rect x="487.4" y="99.2" width="7.4" height="7.3" fill="#fff" opacity="0.55"/>\n<rect x="493.8" y="99.2" width="7.4" height="7.3" fill="#fff" opacity="0.36"/>\n<rect x="500.2" y="99.2" width="7.4" height="7.3" fill="#fff" opacity="0.55"/>\n<rect x="506.7" y="99.2" width="7.4" height="7.3" fill="#fff" opacity="0.73"/>\n<rect x="513.1" y="99.2" width="7.4" height="7.3" fill="#fff" opacity="0.36"/>\n</g></mask>\n<mask id="mk22" maskUnits="userSpaceOnUse" x="463.6" y="103" width="61.4" height="60.8"><g filter="url(#mblur)">\n<rect x="468.1" y="107.5" width="7.4" height="7.3" fill="#fff" opacity="0.12"/>\n<rect x="474.5" y="107.5" width="7.4" height="7.3" fill="#fff" opacity="0.25"/>\n<rect x="481.0" y="107.5" width="7.4" height="7.3" fill="#fff" opacity="0.49"/>\n<rect x="487.4" y="107.5" width="7.4" height="7.3" fill="#fff" opacity="0.37"/>\n<rect x="493.8" y="107.5" width="7.4" height="7.3" fill="#fff" opacity="0.49"/>\n<rect x="500.2" y="107.5" width="7.4" height="7.3" fill="#fff" opacity="0.49"/>\n<rect x="506.7" y="107.5" width="7.4" height="7.3" fill="#fff" opacity="0.37"/>\n<rect x="513.1" y="107.5" width="7.4" height="7.3" fill="#fff" opacity="0.37"/>\n<rect x="468.1" y="113.8" width="7.4" height="7.3" fill="#fff" opacity="0.12"/>\n<rect x="474.5" y="113.8" width="7.4" height="7.3" fill="#fff" opacity="0.25"/>\n<rect x="481.0" y="113.8" width="7.4" height="7.3" fill="#fff" opacity="0.37"/>\n<rect x="487.4" y="113.8" width="7.4" height="7.3" fill="#fff" opacity="0.49"/>\n<rect x="493.8" y="113.8" width="7.4" height="7.3" fill="#fff" opacity="0.37"/>\n<rect x="500.2" y="113.8" width="7.4" height="7.3" fill="#fff" opacity="0.49"/>\n<rect x="506.7" y="113.8" width="7.4" height="7.3" fill="#fff" opacity="0.37"/>\n<rect x="513.1" y="113.8" width="7.4" height="7.3" fill="#fff" opacity="0.49"/>\n<rect x="468.1" y="120.2" width="7.4" height="7.3" fill="#fff" opacity="0.12"/>\n<rect x="474.5" y="120.2" width="7.4" height="7.3" fill="#fff" opacity="0.25"/>\n<rect x="481.0" y="120.2" width="7.4" height="7.3" fill="#fff" opacity="0.25"/>\n<rect x="487.4" y="120.2" width="7.4" height="7.3" fill="#fff" opacity="0.37"/>\n<rect x="493.8" y="120.2" width="7.4" height="7.3" fill="#fff" opacity="0.62"/>\n<rect x="500.2" y="120.2" width="7.4" height="7.3" fill="#fff" opacity="0.62"/>\n<rect x="506.7" y="120.2" width="7.4" height="7.3" fill="#fff" opacity="0.37"/>\n<rect x="513.1" y="120.2" width="7.4" height="7.3" fill="#fff" opacity="0.49"/>\n<rect x="468.1" y="126.5" width="7.4" height="7.3" fill="#fff" opacity="0.12"/>\n<rect x="474.5" y="126.5" width="7.4" height="7.3" fill="#fff" opacity="0.25"/>\n<rect x="481.0" y="126.5" width="7.4" height="7.3" fill="#fff" opacity="0.37"/>\n<rect x="487.4" y="126.5" width="7.4" height="7.3" fill="#fff" opacity="0.62"/>\n<rect x="493.8" y="126.5" width="7.4" height="7.3" fill="#fff" opacity="0.62"/>\n<rect x="500.2" y="126.5" width="7.4" height="7.3" fill="#fff" opacity="0.37"/>\n<rect x="506.7" y="126.5" width="7.4" height="7.3" fill="#fff" opacity="0.25"/>\n<rect x="513.1" y="126.5" width="7.4" height="7.3" fill="#fff" opacity="0.37"/>\n<rect x="468.1" y="132.9" width="7.4" height="7.3" fill="#fff" opacity="0.25"/>\n<rect x="474.5" y="132.9" width="7.4" height="7.3" fill="#fff" opacity="0.25"/>\n<rect x="481.0" y="132.9" width="7.4" height="7.3" fill="#fff" opacity="0.62"/>\n<rect x="487.4" y="132.9" width="7.4" height="7.3" fill="#fff" opacity="0.49"/>\n<rect x="493.8" y="132.9" width="7.4" height="7.3" fill="#fff" opacity="0.62"/>\n<rect x="500.2" y="132.9" width="7.4" height="7.3" fill="#fff" opacity="0.49"/>\n<rect x="506.7" y="132.9" width="7.4" height="7.3" fill="#fff" opacity="0.62"/>\n<rect x="513.1" y="132.9" width="7.4" height="7.3" fill="#fff" opacity="0.37"/>\n<rect x="468.1" y="139.2" width="7.4" height="7.3" fill="#fff" opacity="0.49"/>\n<rect x="474.5" y="139.2" width="7.4" height="7.3" fill="#fff" opacity="0.37"/>\n<rect x="481.0" y="139.2" width="7.4" height="7.3" fill="#fff" opacity="0.37"/>\n<rect x="487.4" y="139.2" width="7.4" height="7.3" fill="#fff" opacity="0.74"/>\n<rect x="493.8" y="139.2" width="7.4" height="7.3" fill="#fff" opacity="0.87"/>\n<rect x="500.2" y="139.2" width="7.4" height="7.3" fill="#fff" opacity="0.62"/>\n<rect x="506.7" y="139.2" width="7.4" height="7.3" fill="#fff" opacity="0.37"/>\n<rect x="513.1" y="139.2" width="7.4" height="7.3" fill="#fff" opacity="0.37"/>\n<rect x="468.1" y="145.6" width="7.4" height="7.3" fill="#fff" opacity="0.49"/>\n<rect x="474.5" y="145.6" width="7.4" height="7.3" fill="#fff" opacity="0.49"/>\n<rect x="481.0" y="145.6" width="7.4" height="7.3" fill="#fff" opacity="0.37"/>\n<rect x="487.4" y="145.6" width="7.4" height="7.3" fill="#fff" opacity="0.49"/>\n<rect x="493.8" y="145.6" width="7.4" height="7.3" fill="#fff" opacity="0.62"/>\n<rect x="500.2" y="145.6" width="7.4" height="7.3" fill="#fff" opacity="0.37"/>\n<rect x="506.7" y="145.6" width="7.4" height="7.3" fill="#fff" opacity="0.49"/>\n<rect x="513.1" y="145.6" width="7.4" height="7.3" fill="#fff" opacity="0.25"/>\n<rect x="468.1" y="151.9" width="7.4" height="7.3" fill="#fff" opacity="0.37"/>\n<rect x="474.5" y="151.9" width="7.4" height="7.3" fill="#fff" opacity="0.62"/>\n<rect x="481.0" y="151.9" width="7.4" height="7.3" fill="#fff" opacity="0.25"/>\n<rect x="487.4" y="151.9" width="7.4" height="7.3" fill="#fff" opacity="0.37"/>\n<rect x="493.8" y="151.9" width="7.4" height="7.3" fill="#fff" opacity="0.25"/>\n<rect x="500.2" y="151.9" width="7.4" height="7.3" fill="#fff" opacity="0.37"/>\n<rect x="506.7" y="151.9" width="7.4" height="7.3" fill="#fff" opacity="0.49"/>\n<rect x="513.1" y="151.9" width="7.4" height="7.3" fill="#fff" opacity="0.25"/>\n</g></mask>\n<filter id="net2" x="0" y="0" width="100%" height="100%" color-interpolation-filters="sRGB">
<feTurbulence type="fractalNoise" baseFrequency="0.072" numOctaves="3" seed="17"/>
<feColorMatrix type="matrix" values="0 0 0 0 0.92  0 0 0 0 0.12  0 0 0 0 0.15  1 0 0 0 0"/>
<feComponentTransfer result="ridge"><feFuncA type="table" tableValues="0 0 0 0 0 0 0 0 0.3 1 1 1 1 0.3 0 0 0 0 0 0 0 0"/></feComponentTransfer>
<feTurbulence type="fractalNoise" baseFrequency="0.18" numOctaves="2" seed="19" result="t2"/>
<feColorMatrix in="t2" type="matrix" values="0 0 0 0 0  0 0 0 0 0  0 0 0 0 0  6 0 0 0 -2.75" result="brk"/>
<feComposite in="ridge" in2="brk" operator="in"/>
<feGaussianBlur stdDeviation="0.2"/>
</filter>
<filter id="cell2" x="0" y="0" width="100%" height="100%" color-interpolation-filters="sRGB">
<feTurbulence type="fractalNoise" baseFrequency="0.09" numOctaves="2" seed="21"/>
<feColorMatrix type="matrix" values="0 0 0 0 0.26  0 0 0 0 0.26  0 0 0 0 0.28  1 0 0 0 0"/>
<feComponentTransfer><feFuncA type="table" tableValues="0 0 0 0 0.06 0.32 0.06 0 0 0 0"/></feComponentTransfer>
</filter>
<filter id="mot2" x="-5%" y="-5%" width="110%" height="110%" color-interpolation-filters="sRGB">
<feTurbulence type="fractalNoise" baseFrequency="0.3" numOctaves="2" seed="8" result="n"/>
<feColorMatrix in="n" type="matrix" values="0 0 0 0 0  0 0 0 0 0  0 0 0 0 0  2.4 0 0 0 -0.35" result="m"/>
<feComposite in="SourceGraphic" in2="m" operator="in" result="c"/>
<feGaussianBlur in="c" stdDeviation="0.5"/>
</filter>\n</defs>\n<g clip-path="url(#cp00)">\n<rect x="361.3" y="3.2" width="51.7" height="50.5" fill="#191919"/>\n<rect x="361.3" y="3.2" width="51.7" height="50.5" filter="url(#cell0)"/>\n<g filter="url(#soft2)">\n<ellipse cx="397.5" cy="4.8" rx="2.30" ry="2.53" fill="#3a9a22"/>\n<ellipse cx="393.5" cy="15.9" rx="1.84" ry="1.84" fill="#3a9a22"/>\n<ellipse cx="408.2" cy="21.3" rx="2.99" ry="2.30" fill="#3a9a22"/>\n<ellipse cx="406.2" cy="24.0" rx="2.30" ry="1.84" fill="#3a9a22"/>\n<ellipse cx="396.4" cy="26.7" rx="2.30" ry="3.22" fill="#3a9a22"/>\n<ellipse cx="382.1" cy="30.0" rx="2.99" ry="2.53" fill="#3a9a22"/>\n<ellipse cx="366.4" cy="35.4" rx="1.84" ry="2.76" fill="#3a9a22"/>\n<ellipse cx="390.5" cy="37.4" rx="4.14" ry="3.91" fill="#3a9a22"/>\n<ellipse cx="398.2" cy="41.4" rx="2.30" ry="2.30" fill="#3a9a22"/>\n<ellipse cx="404.9" cy="41.4" rx="2.53" ry="2.07" fill="#3a9a22"/>\n<ellipse cx="395.5" cy="43.4" rx="2.30" ry="2.07" fill="#3a9a22"/>\n<ellipse cx="388.8" cy="45.4" rx="1.61" ry="1.84" fill="#3a9a22"/>\n<ellipse cx="371.3" cy="51.5" rx="2.30" ry="1.61" fill="#3a9a22"/>\n<ellipse cx="365.3" cy="50.2" rx="1.61" ry="1.61" fill="#3a9a22"/>\n<ellipse cx="406.9" cy="48.8" rx="2.30" ry="2.07" fill="#3a9a22"/>\n<ellipse cx="410.9" cy="52.2" rx="2.30" ry="1.84" fill="#3a9a22"/>\n<ellipse cx="374.8" cy="15.2" rx="1.15" ry="1.15" fill="#3a9a22"/>\n<ellipse cx="397.5" cy="4.8" rx="1.40" ry="1.54" fill="#a8f060"/>\n<ellipse cx="393.5" cy="15.9" rx="1.12" ry="1.12" fill="#a8f060"/>\n<ellipse cx="408.2" cy="21.3" rx="1.82" ry="1.40" fill="#a8f060"/>\n<ellipse cx="406.2" cy="24.0" rx="1.40" ry="1.12" fill="#a8f060"/>\n<ellipse cx="396.4" cy="26.7" rx="1.40" ry="1.96" fill="#a8f060"/>\n<ellipse cx="382.1" cy="30.0" rx="1.82" ry="1.54" fill="#a8f060"/>\n<ellipse cx="366.4" cy="35.4" rx="1.12" ry="1.68" fill="#a8f060"/>\n<ellipse cx="390.5" cy="37.4" rx="2.52" ry="2.38" fill="#a8f060"/>\n<ellipse cx="398.2" cy="41.4" rx="1.40" ry="1.40" fill="#a8f060"/>\n<ellipse cx="404.9" cy="41.4" rx="1.54" ry="1.26" fill="#a8f060"/>\n<ellipse cx="395.5" cy="43.4" rx="1.40" ry="1.26" fill="#a8f060"/>\n<ellipse cx="388.8" cy="45.4" rx="0.98" ry="1.12" fill="#a8f060"/>\n<ellipse cx="371.3" cy="51.5" rx="1.40" ry="0.98" fill="#a8f060"/>\n<ellipse cx="365.3" cy="50.2" rx="0.98" ry="0.98" fill="#a8f060"/>\n<ellipse cx="406.9" cy="48.8" rx="1.40" ry="1.26" fill="#a8f060"/>\n<ellipse cx="410.9" cy="52.2" rx="1.40" ry="1.12" fill="#a8f060"/>\n<ellipse cx="374.8" cy="15.2" rx="0.70" ry="0.70" fill="#a8f060"/>\n</g>\n</g>\n<g clip-path="url(#cp01)">\n<rect x="415" y="3.2" width="51.6" height="50.5" fill="#191919"/>\n<rect x="415" y="3.2" width="51.6" height="50.5" filter="url(#cell1)"/>\n<g filter="url(#soft2)">\n<ellipse cx="451.2" cy="10.2" rx="1.3" ry="1.3" fill="#a0a8a0"/>\n<ellipse cx="442.5" cy="22.6" rx="1.2" ry="1.2" fill="#a0a8a0"/>\n<ellipse cx="456.6" cy="35.1" rx="1.1" ry="1.1" fill="#a0a8a0"/>\n</g>\n</g>\n<g clip-path="url(#cp02)">\n<rect x="468.6" y="3.2" width="51.4" height="50.5" fill="#191919"/>\n<rect x="468.6" y="3.2" width="51.4" height="50.5" filter="url(#cell2)"/>\n<g filter="url(#soft2)">\n<ellipse cx="514.8" cy="5.2" rx="1.61" ry="1.61" fill="#3a9a22"/>\n<ellipse cx="500.8" cy="8.8" rx="1.84" ry="1.15" fill="#3a9a22"/>\n<ellipse cx="504.8" cy="17.9" rx="2.99" ry="1.84" fill="#3a9a22"/>\n<ellipse cx="515.5" cy="22.6" rx="1.84" ry="2.30" fill="#3a9a22"/>\n<ellipse cx="491.1" cy="26.2" rx="2.76" ry="2.99" fill="#3a9a22"/>\n<ellipse cx="485.0" cy="31.6" rx="1.84" ry="2.76" fill="#3a9a22"/>\n<ellipse cx="494.7" cy="38.1" rx="4.60" ry="3.68" fill="#3a9a22"/>\n<ellipse cx="492.1" cy="43.4" rx="2.76" ry="2.30" fill="#3a9a22"/>\n<ellipse cx="475.3" cy="41.4" rx="1.84" ry="2.76" fill="#3a9a22"/>\n<ellipse cx="478.6" cy="43.4" rx="1.84" ry="1.61" fill="#3a9a22"/>\n<ellipse cx="474.0" cy="50.1" rx="1.84" ry="2.76" fill="#3a9a22"/>\n<ellipse cx="478.6" cy="49.4" rx="1.61" ry="1.84" fill="#3a9a22"/>\n<ellipse cx="498.6" cy="41.2" rx="2.30" ry="1.72" fill="#3a9a22"/>\n<ellipse cx="514.8" cy="5.2" rx="0.98" ry="0.98" fill="#a8f060"/>\n<ellipse cx="500.8" cy="8.8" rx="1.12" ry="0.70" fill="#a8f060"/>\n<ellipse cx="504.8" cy="17.9" rx="1.82" ry="1.12" fill="#a8f060"/>\n<ellipse cx="515.5" cy="22.6" rx="1.12" ry="1.40" fill="#a8f060"/>\n<ellipse cx="491.1" cy="26.2" rx="1.68" ry="1.82" fill="#a8f060"/>\n<ellipse cx="485.0" cy="31.6" rx="1.12" ry="1.68" fill="#a8f060"/>\n<ellipse cx="494.7" cy="38.1" rx="2.80" ry="2.24" fill="#a8f060"/>\n<ellipse cx="492.1" cy="43.4" rx="1.68" ry="1.40" fill="#a8f060"/>\n<ellipse cx="475.3" cy="41.4" rx="1.12" ry="1.68" fill="#a8f060"/>\n<ellipse cx="478.6" cy="43.4" rx="1.12" ry="0.98" fill="#a8f060"/>\n<ellipse cx="474.0" cy="50.1" rx="1.12" ry="1.68" fill="#a8f060"/>\n<ellipse cx="478.6" cy="49.4" rx="0.98" ry="1.12" fill="#a8f060"/>\n<ellipse cx="498.6" cy="41.2" rx="1.40" ry="1.05" fill="#a8f060"/>\n<ellipse cx="507.5" cy="26.0" rx="1.2" ry="1" fill="#a0a8a0"/>\n<ellipse cx="475.3" cy="8.8" rx="1" ry="1" fill="#a0a8a0"/>\n<ellipse cx="478.1" cy="18.7" rx="1" ry="1" fill="#a0a8a0"/>\n</g>\n</g>\n<g clip-path="url(#cp10)">\n<rect x="361.3" y="55.5" width="51.7" height="50.5" fill="#110f0f"/>\n<rect x="361.3" y="55.5" width="51.7" height="50.5" filter="url(#cell0)"/>\n<g mask="url(#mk10)" opacity="1"><rect x="361.3" y="55.5" width="51.7" height="50.5" filter="url(#net0)"/></g>\n<g filter="url(#mot0)" opacity="0.6">\n<polyline points="384.3,59.5 388.6,67.8 393.3,76.0 395.3,81.5 394.0,88.2 392.7,95.1 391.3,100.5" fill="none" stroke="#dc1e28" stroke-width="2.6" stroke-linecap="round" stroke-linejoin="round"/>\n<polyline points="394.0,55.5 398.1,61.0" fill="none" stroke="#dc1e28" stroke-width="2.2" stroke-linecap="round" stroke-linejoin="round"/>\n<polyline points="402.3,61.0 409.0,62.3" fill="none" stroke="#dc1e28" stroke-width="2.4" stroke-linecap="round" stroke-linejoin="round"/>\n<polyline points="405.0,73.2 411.1,76.0" fill="none" stroke="#dc1e28" stroke-width="2.6" stroke-linecap="round" stroke-linejoin="round"/>\n<polyline points="400.9,91.0 406.3,95.1" fill="none" stroke="#dc1e28" stroke-width="3.4" stroke-linecap="round" stroke-linejoin="round"/>\n<polyline points="388.6,95.1 395.3,96.5" fill="none" stroke="#dc1e28" stroke-width="2.6" stroke-linecap="round" stroke-linejoin="round"/>\n<polyline points="365.3,84.1 369.5,88.2" fill="none" stroke="#dc1e28" stroke-width="2.4" stroke-linecap="round" stroke-linejoin="round"/>\n<polyline points="376.3,82.0 381.3,83.5" fill="none" stroke="#dc1e28" stroke-width="2.6" stroke-linecap="round" stroke-linejoin="round"/>\n<polyline points="369.5,99.2 364.0,103.2" fill="none" stroke="#dc1e28" stroke-width="2.2" stroke-linecap="round" stroke-linejoin="round"/>\n<ellipse cx="403.3" cy="93.0" rx="4" ry="3.5" fill="#e8222c"/>\n<ellipse cx="385.3" cy="68.5" rx="2" ry="3" fill="#e8222c"/>\n<ellipse cx="408.3" cy="62.5" rx="2.5" ry="2" fill="#e8222c"/>\n</g>\n</g>\n<g clip-path="url(#cp11)">\n<rect x="415" y="55.5" width="51.6" height="50.5" fill="#110f0f"/>\n<rect x="415" y="55.5" width="51.6" height="50.5" filter="url(#cell1)"/>\n<g mask="url(#mk11)" opacity="1"><rect x="415" y="55.5" width="51.6" height="50.5" filter="url(#net1)"/></g>\n<g filter="url(#mot1)" opacity="0.6">\n<polyline points="423.0,56.5 431.0,57.0" fill="none" stroke="#dc1e28" stroke-width="3" stroke-linecap="round" stroke-linejoin="round"/>\n<polyline points="435.5,77.0 443.0,73.5" fill="none" stroke="#dc1e28" stroke-width="3.2" stroke-linecap="round" stroke-linejoin="round"/>\n<polyline points="443.6,82.8 446.0,85.5" fill="none" stroke="#dc1e28" stroke-width="2.4" stroke-linecap="round" stroke-linejoin="round"/>\n<polyline points="448.0,89.5 449.0,94.5" fill="none" stroke="#dc1e28" stroke-width="3" stroke-linecap="round" stroke-linejoin="round"/>\n<polyline points="456.0,86.9 462.0,85.0" fill="none" stroke="#dc1e28" stroke-width="2.6" stroke-linecap="round" stroke-linejoin="round"/>\n<polyline points="441.0,99.2 445.0,97.5" fill="none" stroke="#dc1e28" stroke-width="3.4" stroke-linecap="round" stroke-linejoin="round"/>\n<polyline points="416.5,99.2 420.5,103.2" fill="none" stroke="#dc1e28" stroke-width="3" stroke-linecap="round" stroke-linejoin="round"/>\n<polyline points="461.4,101.9 463.0,103.5" fill="none" stroke="#dc1e28" stroke-width="2" stroke-linecap="round" stroke-linejoin="round"/>\n<polyline points="451.0,62.3 452.5,61.3" fill="none" stroke="#dc1e28" stroke-width="2.6" stroke-linecap="round" stroke-linejoin="round"/>\n<ellipse cx="438.9" cy="76.5" rx="4" ry="2.8" fill="#e8222c"/>\n<ellipse cx="449.0" cy="91.7" rx="3" ry="3.5" fill="#e8222c"/>\n<ellipse cx="443.0" cy="99.2" rx="3.6" ry="3" fill="#e8222c"/>\n<ellipse cx="451.0" cy="62.3" rx="2.6" ry="2.2" fill="#e8222c"/>\n</g>\n</g>\n<g clip-path="url(#cp12)">\n<rect x="468.6" y="55.5" width="51.4" height="50.5" fill="#110f0f"/>\n<rect x="468.6" y="55.5" width="51.4" height="50.5" filter="url(#cell2)"/>\n<g mask="url(#mk12)" opacity="1"><rect x="468.6" y="55.5" width="51.4" height="50.5" filter="url(#net2)"/></g>\n<g filter="url(#mot2)" opacity="0.6">\n<polyline points="488.6,80.5 494.6,75.5 500.6,71.5 504.6,65.5" fill="none" stroke="#dc1e28" stroke-width="2.4" stroke-linecap="round" stroke-linejoin="round"/>\n<polyline points="493.6,87.5 496.6,91.5 492.6,97.5" fill="none" stroke="#dc1e28" stroke-width="3" stroke-linecap="round" stroke-linejoin="round"/>\n<polyline points="501.6,83.5 508.6,79.5 514.6,75.5" fill="none" stroke="#dc1e28" stroke-width="2.4" stroke-linecap="round" stroke-linejoin="round"/>\n<polyline points="471.6,89.5 476.6,95.5 474.6,101.5" fill="none" stroke="#dc1e28" stroke-width="2.2" stroke-linecap="round" stroke-linejoin="round"/>\n<ellipse cx="495.6" cy="88.5" rx="4" ry="3.5" fill="#e8222c"/>\n<ellipse cx="501.6" cy="83.5" rx="3" ry="3" fill="#e8222c"/>\n<ellipse cx="488.6" cy="80.5" rx="2.5" ry="2" fill="#e8222c"/>\n</g>\n</g>\n<g clip-path="url(#cp20)">\n<rect x="361.3" y="108" width="51.7" height="50.8" fill="#110f0f"/>\n<rect x="361.3" y="108" width="51.7" height="50.8" filter="url(#cell0)"/>\n<g mask="url(#mk20)" opacity="1"><rect x="361.3" y="108" width="51.7" height="50.8" filter="url(#net0)"/></g>\n<g filter="url(#mot0)" opacity="0.45">\n<polyline points="384.3,112.0 388.6,120.3 393.3,128.5 395.3,134.0 394.0,140.7 392.7,147.6 391.3,153.0" fill="none" stroke="#dc1e28" stroke-width="2.6" stroke-linecap="round" stroke-linejoin="round"/>\n<polyline points="394.0,108.0 398.1,113.5" fill="none" stroke="#dc1e28" stroke-width="2.2" stroke-linecap="round" stroke-linejoin="round"/>\n<polyline points="402.3,113.5 409.0,114.8" fill="none" stroke="#dc1e28" stroke-width="2.4" stroke-linecap="round" stroke-linejoin="round"/>\n<polyline points="405.0,125.7 411.1,128.5" fill="none" stroke="#dc1e28" stroke-width="2.6" stroke-linecap="round" stroke-linejoin="round"/>\n<polyline points="400.9,143.5 406.3,147.6" fill="none" stroke="#dc1e28" stroke-width="3.4" stroke-linecap="round" stroke-linejoin="round"/>\n<polyline points="388.6,147.6 395.3,149.0" fill="none" stroke="#dc1e28" stroke-width="2.6" stroke-linecap="round" stroke-linejoin="round"/>\n<polyline points="365.3,136.6 369.5,140.7" fill="none" stroke="#dc1e28" stroke-width="2.4" stroke-linecap="round" stroke-linejoin="round"/>\n<polyline points="376.3,134.5 381.3,136.0" fill="none" stroke="#dc1e28" stroke-width="2.6" stroke-linecap="round" stroke-linejoin="round"/>\n<polyline points="369.5,151.7 364.0,155.7" fill="none" stroke="#dc1e28" stroke-width="2.2" stroke-linecap="round" stroke-linejoin="round"/>\n<ellipse cx="403.3" cy="145.5" rx="4" ry="3.5" fill="#e8222c"/>\n<ellipse cx="385.3" cy="121.0" rx="2" ry="3" fill="#e8222c"/>\n<ellipse cx="408.3" cy="115.0" rx="2.5" ry="2" fill="#e8222c"/>\n</g>\n<g filter="url(#soft2)" opacity="0.5">\n<ellipse cx="397.5" cy="109.6" rx="2.00" ry="2.20" fill="#a8b428"/>\n<ellipse cx="393.5" cy="120.7" rx="1.60" ry="1.60" fill="#a8b428"/>\n<ellipse cx="408.2" cy="126.1" rx="2.60" ry="2.00" fill="#a8b428"/>\n<ellipse cx="406.2" cy="128.8" rx="2.00" ry="1.60" fill="#a8b428"/>\n<ellipse cx="396.4" cy="131.5" rx="2.00" ry="2.80" fill="#a8b428"/>\n<ellipse cx="382.1" cy="134.8" rx="2.60" ry="2.20" fill="#a8b428"/>\n<ellipse cx="366.4" cy="140.2" rx="1.60" ry="2.40" fill="#a8b428"/>\n<ellipse cx="390.5" cy="142.2" rx="3.60" ry="3.40" fill="#a8b428"/>\n<ellipse cx="398.2" cy="146.2" rx="2.00" ry="2.00" fill="#a8b428"/>\n<ellipse cx="404.9" cy="146.2" rx="2.20" ry="1.80" fill="#a8b428"/>\n<ellipse cx="395.5" cy="148.2" rx="2.00" ry="1.80" fill="#a8b428"/>\n<ellipse cx="388.8" cy="150.2" rx="1.40" ry="1.60" fill="#a8b428"/>\n<ellipse cx="371.3" cy="156.3" rx="2.00" ry="1.40" fill="#a8b428"/>\n<ellipse cx="365.3" cy="155.0" rx="1.40" ry="1.40" fill="#a8b428"/>\n<ellipse cx="406.9" cy="153.6" rx="2.00" ry="1.80" fill="#a8b428"/>\n<ellipse cx="410.9" cy="157.0" rx="2.00" ry="1.60" fill="#a8b428"/>\n<ellipse cx="374.8" cy="120.0" rx="1.00" ry="1.00" fill="#a8b428"/>\n<ellipse cx="397.5" cy="109.6" rx="1.00" ry="1.10" fill="#d8e040"/>\n<ellipse cx="393.5" cy="120.7" rx="0.80" ry="0.80" fill="#d8e040"/>\n<ellipse cx="408.2" cy="126.1" rx="1.30" ry="1.00" fill="#d8e040"/>\n<ellipse cx="406.2" cy="128.8" rx="1.00" ry="0.80" fill="#d8e040"/>\n<ellipse cx="396.4" cy="131.5" rx="1.00" ry="1.40" fill="#d8e040"/>\n<ellipse cx="382.1" cy="134.8" rx="1.30" ry="1.10" fill="#d8e040"/>\n<ellipse cx="366.4" cy="140.2" rx="0.80" ry="1.20" fill="#d8e040"/>\n<ellipse cx="390.5" cy="142.2" rx="1.80" ry="1.70" fill="#d8e040"/>\n<ellipse cx="398.2" cy="146.2" rx="1.00" ry="1.00" fill="#d8e040"/>\n<ellipse cx="404.9" cy="146.2" rx="1.10" ry="0.90" fill="#d8e040"/>\n<ellipse cx="395.5" cy="148.2" rx="1.00" ry="0.90" fill="#d8e040"/>\n<ellipse cx="388.8" cy="150.2" rx="0.70" ry="0.80" fill="#d8e040"/>\n<ellipse cx="371.3" cy="156.3" rx="1.00" ry="0.70" fill="#d8e040"/>\n<ellipse cx="365.3" cy="155.0" rx="0.70" ry="0.70" fill="#d8e040"/>\n<ellipse cx="406.9" cy="153.6" rx="1.00" ry="0.90" fill="#d8e040"/>\n<ellipse cx="410.9" cy="157.0" rx="1.00" ry="0.80" fill="#d8e040"/>\n<ellipse cx="374.8" cy="120.0" rx="0.50" ry="0.50" fill="#d8e040"/>\n</g>\n</g>\n<g clip-path="url(#cp21)">\n<rect x="415" y="108" width="51.6" height="50.8" fill="#110f0f"/>\n<rect x="415" y="108" width="51.6" height="50.8" filter="url(#cell1)"/>\n<g mask="url(#mk21)" opacity="1"><rect x="415" y="108" width="51.6" height="50.8" filter="url(#net1)"/></g>\n<g filter="url(#mot1)" opacity="0.45">\n<polyline points="423.0,109.0 431.0,109.5" fill="none" stroke="#dc1e28" stroke-width="3" stroke-linecap="round" stroke-linejoin="round"/>\n<polyline points="435.5,129.5 443.0,126.0" fill="none" stroke="#dc1e28" stroke-width="3.2" stroke-linecap="round" stroke-linejoin="round"/>\n<polyline points="443.6,135.3 446.0,138.0" fill="none" stroke="#dc1e28" stroke-width="2.4" stroke-linecap="round" stroke-linejoin="round"/>\n<polyline points="448.0,142.0 449.0,147.0" fill="none" stroke="#dc1e28" stroke-width="3" stroke-linecap="round" stroke-linejoin="round"/>\n<polyline points="456.0,139.4 462.0,137.5" fill="none" stroke="#dc1e28" stroke-width="2.6" stroke-linecap="round" stroke-linejoin="round"/>\n<polyline points="441.0,151.7 445.0,150.0" fill="none" stroke="#dc1e28" stroke-width="3.4" stroke-linecap="round" stroke-linejoin="round"/>\n<polyline points="416.5,151.7 420.5,155.7" fill="none" stroke="#dc1e28" stroke-width="3" stroke-linecap="round" stroke-linejoin="round"/>\n<polyline points="461.4,154.4 463.0,156.0" fill="none" stroke="#dc1e28" stroke-width="2" stroke-linecap="round" stroke-linejoin="round"/>\n<polyline points="451.0,114.8 452.5,113.8" fill="none" stroke="#dc1e28" stroke-width="2.6" stroke-linecap="round" stroke-linejoin="round"/>\n<ellipse cx="438.9" cy="129.0" rx="4" ry="2.8" fill="#e8222c"/>\n<ellipse cx="449.0" cy="144.2" rx="3" ry="3.5" fill="#e8222c"/>\n<ellipse cx="443.0" cy="151.7" rx="3.6" ry="3" fill="#e8222c"/>\n<ellipse cx="451.0" cy="114.8" rx="2.6" ry="2.2" fill="#e8222c"/>\n</g>\n<g filter="url(#soft2)" opacity="0.5">\n</g>\n</g>\n<g clip-path="url(#cp22)">\n<rect x="468.6" y="108" width="51.4" height="50.8" fill="#110f0f"/>\n<rect x="468.6" y="108" width="51.4" height="50.8" filter="url(#cell2)"/>\n<g mask="url(#mk22)" opacity="1"><rect x="468.6" y="108" width="51.4" height="50.8" filter="url(#net2)"/></g>\n<g filter="url(#mot2)" opacity="0.45">\n<polyline points="488.6,133.0 494.6,128.0 500.6,124.0 504.6,118.0" fill="none" stroke="#dc1e28" stroke-width="2.4" stroke-linecap="round" stroke-linejoin="round"/>\n<polyline points="493.6,140.0 496.6,144.0 492.6,150.0" fill="none" stroke="#dc1e28" stroke-width="3" stroke-linecap="round" stroke-linejoin="round"/>\n<polyline points="501.6,136.0 508.6,132.0 514.6,128.0" fill="none" stroke="#dc1e28" stroke-width="2.4" stroke-linecap="round" stroke-linejoin="round"/>\n<polyline points="471.6,142.0 476.6,148.0 474.6,154.0" fill="none" stroke="#dc1e28" stroke-width="2.2" stroke-linecap="round" stroke-linejoin="round"/>\n<ellipse cx="495.6" cy="141.0" rx="4" ry="3.5" fill="#e8222c"/>\n<ellipse cx="501.6" cy="136.0" rx="3" ry="3" fill="#e8222c"/>\n<ellipse cx="488.6" cy="133.0" rx="2.5" ry="2" fill="#e8222c"/>\n</g>\n<g filter="url(#soft2)" opacity="0.5">\n<ellipse cx="514.8" cy="110.0" rx="1.40" ry="1.40" fill="#a8b428"/>\n<ellipse cx="500.8" cy="113.6" rx="1.60" ry="1.00" fill="#a8b428"/>\n<ellipse cx="504.8" cy="122.7" rx="2.60" ry="1.60" fill="#a8b428"/>\n<ellipse cx="515.5" cy="127.4" rx="1.60" ry="2.00" fill="#a8b428"/>\n<ellipse cx="491.1" cy="131.0" rx="2.40" ry="2.60" fill="#a8b428"/>\n<ellipse cx="485.0" cy="136.4" rx="1.60" ry="2.40" fill="#a8b428"/>\n<ellipse cx="494.7" cy="142.9" rx="4.00" ry="3.20" fill="#a8b428"/>\n<ellipse cx="492.1" cy="148.2" rx="2.40" ry="2.00" fill="#a8b428"/>\n<ellipse cx="475.3" cy="146.2" rx="1.60" ry="2.40" fill="#a8b428"/>\n<ellipse cx="478.6" cy="148.2" rx="1.60" ry="1.40" fill="#a8b428"/>\n<ellipse cx="474.0" cy="154.9" rx="1.60" ry="2.40" fill="#a8b428"/>\n<ellipse cx="478.6" cy="154.2" rx="1.40" ry="1.60" fill="#a8b428"/>\n<ellipse cx="498.6" cy="146.0" rx="2.00" ry="1.50" fill="#a8b428"/>\n<ellipse cx="514.8" cy="110.0" rx="0.70" ry="0.70" fill="#d8e040"/>\n<ellipse cx="500.8" cy="113.6" rx="0.80" ry="0.50" fill="#d8e040"/>\n<ellipse cx="504.8" cy="122.7" rx="1.30" ry="0.80" fill="#d8e040"/>\n<ellipse cx="515.5" cy="127.4" rx="0.80" ry="1.00" fill="#d8e040"/>\n<ellipse cx="491.1" cy="131.0" rx="1.20" ry="1.30" fill="#d8e040"/>\n<ellipse cx="485.0" cy="136.4" rx="0.80" ry="1.20" fill="#d8e040"/>\n<ellipse cx="494.7" cy="142.9" rx="2.00" ry="1.60" fill="#d8e040"/>\n<ellipse cx="492.1" cy="148.2" rx="1.20" ry="1.00" fill="#d8e040"/>\n<ellipse cx="475.3" cy="146.2" rx="0.80" ry="1.20" fill="#d8e040"/>\n<ellipse cx="478.6" cy="148.2" rx="0.80" ry="0.70" fill="#d8e040"/>\n<ellipse cx="474.0" cy="154.9" rx="0.80" ry="1.20" fill="#d8e040"/>\n<ellipse cx="478.6" cy="154.2" rx="0.70" ry="0.80" fill="#d8e040"/>\n<ellipse cx="498.6" cy="146.0" rx="1.00" ry="0.75" fill="#d8e040"/>\n</g>\n</g>
<text transform="translate(372.2,171.1) scale(0.1,0.1130)" font-size="100.0" text-anchor="start" font-family="Liberation Serif, serif" font-weight="normal" fill="#000" style="stroke-width:1.50px" >Control</text>
<text transform="translate(372.2,182.6) scale(0.1,0.1130)" font-size="100.0" text-anchor="start" font-family="Liberation Serif, serif" font-weight="normal" fill="#000" style="stroke-width:1.50px" >siRNA</text>
<text transform="translate(375.1,200.6) scale(0.1,0.1130)" font-size="100.0" text-anchor="start" font-family="Liberation Serif, serif" font-weight="normal" fill="#000" style="stroke-width:1.50px" >BSA</text>
<text transform="translate(428.3,171.1) scale(0.1,0.1130)" font-size="100.0" text-anchor="start" font-family="Liberation Serif, serif" font-weight="normal" fill="#000" style="stroke-width:1.50px" >E-sel</text>
<text transform="translate(428.3,182.6) scale(0.1,0.1130)" font-size="100.0" text-anchor="start" font-family="Liberation Serif, serif" font-weight="normal" fill="#000" style="stroke-width:1.50px" >siRNA</text>
<text transform="translate(431.7,200.6) scale(0.1,0.1130)" font-size="100.0" text-anchor="start" font-family="Liberation Serif, serif" font-weight="normal" fill="#000" style="stroke-width:1.50px" >BSA</text>
<text transform="translate(481.0,171.1) scale(0.1,0.1130)" font-size="100.0" text-anchor="start" font-family="Liberation Serif, serif" font-weight="normal" fill="#000" style="stroke-width:1.50px" >E-sel</text>
<text transform="translate(481.0,182.6) scale(0.1,0.1130)" font-size="100.0" text-anchor="start" font-family="Liberation Serif, serif" font-weight="normal" fill="#000" style="stroke-width:1.50px" >siRNA</text>
<text transform="translate(482.8,200.6) scale(0.1,0.1130)" font-size="100.0" text-anchor="start" font-family="Liberation Serif, serif" font-weight="normal" fill="#000" style="stroke-width:1.50px" >sE-sel</text>
<text transform="translate(0.8,231.2) scale(0.1,0.1000)" font-size="160.0" text-anchor="start" font-family="Liberation Sans, sans-serif" font-weight="bold" fill="#000" style="stroke-width:1.50px" >C</text>
<line x1="36" y1="242.2" x2="36" y2="349.8" stroke="#5a5a5a" stroke-width="1.1" />
<line x1="33.2" y1="349.8" x2="36" y2="349.8" stroke="#5a5a5a" stroke-width="1" />
<text transform="translate(31.8,352.8) scale(0.1,0.1050)" font-size="92.0" text-anchor="end" font-family="Liberation Serif, serif" font-weight="normal" fill="#000" style="stroke-width:1.50px" >0</text>
<line x1="34.4" y1="342.15000000000003" x2="36" y2="342.15000000000003" stroke="#5a5a5a" stroke-width="1" />
<line x1="33.2" y1="334.5" x2="36" y2="334.5" stroke="#5a5a5a" stroke-width="1" />
<text transform="translate(31.8,337.5) scale(0.1,0.1050)" font-size="92.0" text-anchor="end" font-family="Liberation Serif, serif" font-weight="normal" fill="#000" style="stroke-width:1.50px" >20</text>
<line x1="34.4" y1="326.85" x2="36" y2="326.85" stroke="#5a5a5a" stroke-width="1" />
<line x1="33.2" y1="319.2" x2="36" y2="319.2" stroke="#5a5a5a" stroke-width="1" />
<text transform="translate(31.8,322.2) scale(0.1,0.1050)" font-size="92.0" text-anchor="end" font-family="Liberation Serif, serif" font-weight="normal" fill="#000" style="stroke-width:1.50px" >40</text>
<line x1="34.4" y1="311.55" x2="36" y2="311.55" stroke="#5a5a5a" stroke-width="1" />
<line x1="33.2" y1="303.90000000000003" x2="36" y2="303.90000000000003" stroke="#5a5a5a" stroke-width="1" />
<text transform="translate(31.8,306.90000000000003) scale(0.1,0.1050)" font-size="92.0" text-anchor="end" font-family="Liberation Serif, serif" font-weight="normal" fill="#000" style="stroke-width:1.50px" >60</text>
<line x1="34.4" y1="296.25" x2="36" y2="296.25" stroke="#5a5a5a" stroke-width="1" />
<line x1="33.2" y1="288.6" x2="36" y2="288.6" stroke="#5a5a5a" stroke-width="1" />
<text transform="translate(31.8,291.6) scale(0.1,0.1050)" font-size="92.0" text-anchor="end" font-family="Liberation Serif, serif" font-weight="normal" fill="#000" style="stroke-width:1.50px" >80</text>
<line x1="34.4" y1="280.95000000000005" x2="36" y2="280.95000000000005" stroke="#5a5a5a" stroke-width="1" />
<line x1="33.2" y1="273.3" x2="36" y2="273.3" stroke="#5a5a5a" stroke-width="1" />
<text transform="translate(31.8,276.3) scale(0.1,0.1050)" font-size="92.0" text-anchor="end" font-family="Liberation Serif, serif" font-weight="normal" fill="#000" style="stroke-width:1.50px" >100</text>
<line x1="34.4" y1="265.65" x2="36" y2="265.65" stroke="#5a5a5a" stroke-width="1" />
<line x1="33.2" y1="258.0" x2="36" y2="258.0" stroke="#5a5a5a" stroke-width="1" />
<text transform="translate(31.8,261.0) scale(0.1,0.1050)" font-size="92.0" text-anchor="end" font-family="Liberation Serif, serif" font-weight="normal" fill="#000" style="stroke-width:1.50px" >120</text>
<line x1="34.4" y1="250.35000000000002" x2="36" y2="250.35000000000002" stroke="#5a5a5a" stroke-width="1" />
<line x1="33.2" y1="242.7" x2="36" y2="242.7" stroke="#5a5a5a" stroke-width="1" />
<text transform="translate(31.8,245.7) scale(0.1,0.1050)" font-size="92.0" text-anchor="end" font-family="Liberation Serif, serif" font-weight="normal" fill="#000" style="stroke-width:1.50px" >140</text>
<line x1="36" y1="349.8" x2="148.5" y2="349.8" stroke="#5a5a5a" stroke-width="1.1" />
<line x1="68.5" y1="260.9" x2="68.5" y2="275.4" stroke="#555" stroke-width="1" />
<line x1="66.5" y1="260.9" x2="70.5" y2="260.9" stroke="#555" stroke-width="1" />
<rect x="55.4" y="275.4" width="26.199999999999996" height="74.40000000000003" fill="#c8c8c8" stroke="#666" stroke-width="0.8"/>
<line x1="99.75" y1="318" x2="99.75" y2="329" stroke="#555" stroke-width="1" />
<line x1="97.75" y1="318" x2="101.75" y2="318" stroke="#555" stroke-width="1" />
<rect x="86.8" y="329" width="25.900000000000006" height="20.80000000000001" fill="#7f7f7f" stroke="#666" stroke-width="0.8"/>
<line x1="132.05" y1="249.6" x2="132.05" y2="263.4" stroke="#555" stroke-width="1" />
<line x1="130.05" y1="249.6" x2="134.05" y2="249.6" stroke="#555" stroke-width="1" />
<rect x="119.3" y="263.4" width="25.500000000000014" height="86.40000000000003" fill="#7f7f7f" stroke="#666" stroke-width="0.8"/>
<path d="M68.4,254.4 V244.3 H96.1 V297.5" fill="none" stroke="#888" stroke-width="1"/>
<path d="M101.6,296.4 V238 H131.8 V248.5" fill="none" stroke="#888" stroke-width="1"/>
<path d="M81.23,229.1 H82.58 L82.37,239.9 H81.43 Z" fill="#111"/>
<rect x="78.70" y="231.57" width="6.40" height="1.25" fill="#111"/>
<path d="M116.12,224.1 H117.47 L117.27,235.5 H116.33 Z" fill="#111"/>
<rect x="113.70" y="226.57" width="6.20" height="1.25" fill="#111"/>
<text transform="translate(54.4,358.4) scale(0.1,0.1050)" font-size="92.0" text-anchor="start" font-family="Liberation Serif, serif" font-weight="normal" fill="#000" style="stroke-width:1.50px" >Control</text>
<text transform="translate(56.3,367.1) scale(0.1,0.1050)" font-size="92.0" text-anchor="start" font-family="Liberation Serif, serif" font-weight="normal" fill="#000" style="stroke-width:1.50px" >siRNA</text>
<text transform="translate(59.4,378.9) scale(0.1,0.1050)" font-size="92.0" text-anchor="start" font-family="Liberation Serif, serif" font-weight="normal" fill="#000" style="stroke-width:1.50px" >BSA</text>
<text transform="translate(90.4,358.4) scale(0.1,0.1050)" font-size="92.0" text-anchor="start" font-family="Liberation Serif, serif" font-weight="normal" fill="#000" style="stroke-width:1.50px" >E-sel</text>
<text transform="translate(88.5,367.1) scale(0.1,0.1050)" font-size="92.0" text-anchor="start" font-family="Liberation Serif, serif" font-weight="normal" fill="#000" style="stroke-width:1.50px" >siRNA</text>
<text transform="translate(92.0,378.9) scale(0.1,0.1050)" font-size="92.0" text-anchor="start" font-family="Liberation Serif, serif" font-weight="normal" fill="#000" style="stroke-width:1.50px" >BSA</text>
<text transform="translate(124.4,358.4) scale(0.1,0.1050)" font-size="92.0" text-anchor="start" font-family="Liberation Serif, serif" font-weight="normal" fill="#000" style="stroke-width:1.50px" >E-sel</text>
<text transform="translate(122.3,367.1) scale(0.1,0.1050)" font-size="92.0" text-anchor="start" font-family="Liberation Serif, serif" font-weight="normal" fill="#000" style="stroke-width:1.50px" >siRNA</text>
<text transform="translate(122.0,378.9) scale(0.1,0.1050)" font-size="92.0" text-anchor="start" font-family="Liberation Serif, serif" font-weight="normal" fill="#000" style="stroke-width:1.50px" >sE-sel</text>
<text transform="translate(12.5,297) scale(0.1,0.1050) rotate(-90)" font-size="96.0" text-anchor="middle" font-family="Liberation Serif, serif" style="stroke-width:0.00px" >Number of homing cells/mm<tspan font-size="60" dy="-35">2</tspan></text>
<text transform="translate(200.5,231.4) scale(0.1,0.1000)" font-size="160.0" text-anchor="start" font-family="Liberation Sans, sans-serif" font-weight="bold" fill="#000" style="stroke-width:1.50px" >D</text>
<line x1="256.7" y1="219.5" x2="256.7" y2="350.6" stroke="#5a5a5a" stroke-width="1.1" />
<line x1="253.7" y1="350.6" x2="256.7" y2="350.6" stroke="#5a5a5a" stroke-width="1" />
<text transform="translate(250.9,354.6) scale(0.1,0.1130)" font-size="120.0" text-anchor="end" font-family="Liberation Serif, serif" font-weight="normal" fill="#000" style="stroke-width:1.50px" >0.0</text>
<line x1="254.89999999999998" y1="336.77500000000003" x2="256.7" y2="336.77500000000003" stroke="#5a5a5a" stroke-width="1" />
<line x1="253.7" y1="322.95000000000005" x2="256.7" y2="322.95000000000005" stroke="#5a5a5a" stroke-width="1" />
<text transform="translate(250.9,326.95000000000005) scale(0.1,0.1130)" font-size="120.0" text-anchor="end" font-family="Liberation Serif, serif" font-weight="normal" fill="#000" style="stroke-width:1.50px" >0.2</text>
<line x1="254.89999999999998" y1="309.125" x2="256.7" y2="309.125" stroke="#5a5a5a" stroke-width="1" />
<line x1="253.7" y1="295.3" x2="256.7" y2="295.3" stroke="#5a5a5a" stroke-width="1" />
<text transform="translate(250.9,299.3) scale(0.1,0.1130)" font-size="120.0" text-anchor="end" font-family="Liberation Serif, serif" font-weight="normal" fill="#000" style="stroke-width:1.50px" >0.4</text>
<line x1="254.89999999999998" y1="281.475" x2="256.7" y2="281.475" stroke="#5a5a5a" stroke-width="1" />
<line x1="253.7" y1="267.65" x2="256.7" y2="267.65" stroke="#5a5a5a" stroke-width="1" />
<text transform="translate(250.9,271.65) scale(0.1,0.1130)" font-size="120.0" text-anchor="end" font-family="Liberation Serif, serif" font-weight="normal" fill="#000" style="stroke-width:1.50px" >0.6</text>
<line x1="254.89999999999998" y1="253.82500000000002" x2="256.7" y2="253.82500000000002" stroke="#5a5a5a" stroke-width="1" />
<line x1="253.7" y1="240.0" x2="256.7" y2="240.0" stroke="#5a5a5a" stroke-width="1" />
<text transform="translate(250.9,244.0) scale(0.1,0.1130)" font-size="120.0" text-anchor="end" font-family="Liberation Serif, serif" font-weight="normal" fill="#000" style="stroke-width:1.50px" >0.8</text>
<line x1="254.89999999999998" y1="226.175" x2="256.7" y2="226.175" stroke="#5a5a5a" stroke-width="1" />
<line x1="256.7" y1="350.6" x2="486" y2="350.6" stroke="#5a5a5a" stroke-width="1.1" />
<line x1="278.8" y1="350.6" x2="278.8" y2="353.6" stroke="#5a5a5a" stroke-width="1" />
<line x1="302.0" y1="350.6" x2="302.0" y2="352.6" stroke="#5a5a5a" stroke-width="1" />
<text transform="translate(278.8,365.4) scale(0.1,0.1130)" font-size="110.0" text-anchor="middle" font-family="Liberation Serif, serif" font-weight="normal" fill="#000" style="stroke-width:1.50px" >Day 0</text>
<line x1="325.3" y1="350.6" x2="325.3" y2="353.6" stroke="#5a5a5a" stroke-width="1" />
<line x1="348.5" y1="350.6" x2="348.5" y2="352.6" stroke="#5a5a5a" stroke-width="1" />
<text transform="translate(325.3,365.4) scale(0.1,0.1130)" font-size="110.0" text-anchor="middle" font-family="Liberation Serif, serif" font-weight="normal" fill="#000" style="stroke-width:1.50px" >Day 3</text>
<line x1="371.8" y1="350.6" x2="371.8" y2="353.6" stroke="#5a5a5a" stroke-width="1" />
<line x1="395.0" y1="350.6" x2="395.0" y2="352.6" stroke="#5a5a5a" stroke-width="1" />
<text transform="translate(371.8,365.4) scale(0.1,0.1130)" font-size="110.0" text-anchor="middle" font-family="Liberation Serif, serif" font-weight="normal" fill="#000" style="stroke-width:1.50px" >Day 7</text>
<line x1="418.2" y1="350.6" x2="418.2" y2="353.6" stroke="#5a5a5a" stroke-width="1" />
<line x1="441.4" y1="350.6" x2="441.4" y2="352.6" stroke="#5a5a5a" stroke-width="1" />
<text transform="translate(418.2,365.4) scale(0.1,0.1130)" font-size="110.0" text-anchor="middle" font-family="Liberation Serif, serif" font-weight="normal" fill="#000" style="stroke-width:1.50px" >Day 14</text>
<line x1="464.6" y1="350.6" x2="464.6" y2="353.6" stroke="#5a5a5a" stroke-width="1" />
<text transform="translate(464.6,365.4) scale(0.1,0.1130)" font-size="110.0" text-anchor="middle" font-family="Liberation Serif, serif" font-weight="normal" fill="#000" style="stroke-width:1.50px" >Day 21</text>
<line x1="256.7" y1="350.6" x2="256.7" y2="352.6" stroke="#5a5a5a" stroke-width="1" />
<line x1="278.8" y1="337" x2="278.8" y2="341" stroke="#8a8ad8" stroke-width="0.9" />
<line x1="276.3" y1="337" x2="281.3" y2="337" stroke="#8a8ad8" stroke-width="0.9" />
<line x1="276.3" y1="341" x2="281.3" y2="341" stroke="#8a8ad8" stroke-width="0.9" />
<line x1="278.8" y1="338" x2="278.8" y2="342" stroke="#d88a8a" stroke-width="0.9" />
<line x1="276.3" y1="338" x2="281.3" y2="338" stroke="#d88a8a" stroke-width="0.9" />
<line x1="276.3" y1="342" x2="281.3" y2="342" stroke="#d88a8a" stroke-width="0.9" />
<line x1="278.8" y1="338" x2="278.8" y2="342" stroke="#888" stroke-width="0.9" />
<line x1="276.3" y1="338" x2="281.3" y2="338" stroke="#888" stroke-width="0.9" />
<line x1="276.3" y1="342" x2="281.3" y2="342" stroke="#888" stroke-width="0.9" />
<line x1="325.3" y1="291.4" x2="325.3" y2="349.9" stroke="#8a8ad8" stroke-width="0.9" />
<line x1="322.8" y1="291.4" x2="327.8" y2="291.4" stroke="#8a8ad8" stroke-width="0.9" />
<line x1="322.8" y1="349.9" x2="327.8" y2="349.9" stroke="#8a8ad8" stroke-width="0.9" />
<line x1="325.3" y1="324" x2="325.3" y2="339" stroke="#d88a8a" stroke-width="0.9" />
<line x1="322.8" y1="324" x2="327.8" y2="324" stroke="#d88a8a" stroke-width="0.9" />
<line x1="322.8" y1="339" x2="327.8" y2="339" stroke="#d88a8a" stroke-width="0.9" />
<line x1="325.3" y1="315" x2="325.3" y2="339" stroke="#888" stroke-width="0.9" />
<line x1="322.8" y1="315" x2="327.8" y2="315" stroke="#888" stroke-width="0.9" />
<line x1="322.8" y1="339" x2="327.8" y2="339" stroke="#888" stroke-width="0.9" />
<line x1="371.8" y1="310" x2="371.8" y2="345.5" stroke="#8a8ad8" stroke-width="0.9" />
<line x1="369.3" y1="310" x2="374.3" y2="310" stroke="#8a8ad8" stroke-width="0.9" />
<line x1="369.3" y1="345.5" x2="374.3" y2="345.5" stroke="#8a8ad8" stroke-width="0.9" />
<line x1="371.8" y1="303.6" x2="371.8" y2="341.5" stroke="#d88a8a" stroke-width="0.9" />
<line x1="369.3" y1="303.6" x2="374.3" y2="303.6" stroke="#d88a8a" stroke-width="0.9" />
<line x1="369.3" y1="341.5" x2="374.3" y2="341.5" stroke="#d88a8a" stroke-width="0.9" />
<line x1="371.8" y1="268.6" x2="371.8" y2="311" stroke="#888" stroke-width="0.9" />
<line x1="369.3" y1="268.6" x2="374.3" y2="268.6" stroke="#888" stroke-width="0.9" />
<line x1="369.3" y1="311" x2="374.3" y2="311" stroke="#888" stroke-width="0.9" />
<line x1="418.2" y1="259" x2="418.2" y2="337.6" stroke="#8a8ad8" stroke-width="0.9" />
<line x1="415.7" y1="259" x2="420.7" y2="259" stroke="#8a8ad8" stroke-width="0.9" />
<line x1="415.7" y1="337.6" x2="420.7" y2="337.6" stroke="#8a8ad8" stroke-width="0.9" />
<line x1="418.2" y1="266" x2="418.2" y2="291.5" stroke="#d88a8a" stroke-width="0.9" />
<line x1="415.7" y1="266" x2="420.7" y2="266" stroke="#d88a8a" stroke-width="0.9" />
<line x1="415.7" y1="291.5" x2="420.7" y2="291.5" stroke="#d88a8a" stroke-width="0.9" />
<line x1="418.2" y1="235.9" x2="418.2" y2="265" stroke="#888" stroke-width="0.9" />
<line x1="415.7" y1="235.9" x2="420.7" y2="235.9" stroke="#888" stroke-width="0.9" />
<line x1="415.7" y1="265" x2="420.7" y2="265" stroke="#888" stroke-width="0.9" />
<line x1="464.6" y1="273.8" x2="464.6" y2="335" stroke="#8a8ad8" stroke-width="0.9" />
<line x1="462.1" y1="273.8" x2="467.1" y2="273.8" stroke="#8a8ad8" stroke-width="0.9" />
<line x1="462.1" y1="335" x2="467.1" y2="335" stroke="#8a8ad8" stroke-width="0.9" />
<line x1="464.6" y1="234.4" x2="464.6" y2="273.8" stroke="#d88a8a" stroke-width="0.9" />
<line x1="462.1" y1="234.4" x2="467.1" y2="234.4" stroke="#d88a8a" stroke-width="0.9" />
<line x1="462.1" y1="273.8" x2="467.1" y2="273.8" stroke="#d88a8a" stroke-width="0.9" />
<line x1="464.6" y1="240" x2="464.6" y2="259" stroke="#888" stroke-width="0.9" />
<line x1="462.1" y1="240" x2="467.1" y2="240" stroke="#888" stroke-width="0.9" />
<line x1="462.1" y1="259" x2="467.1" y2="259" stroke="#888" stroke-width="0.9" />
<polyline points="278.8,338.8 325.3,320 371.8,324.8 418.2,298 464.6,305" fill="none" stroke="#1a1ad0" stroke-width="1.2" stroke-dasharray="1.2,2.2"/>
<polyline points="278.8,340 325.3,332.2 371.8,322.5 418.2,278.8 464.6,254.3" fill="none" stroke="#d01818" stroke-width="1.15" stroke-dasharray="5,3"/>
<polyline points="278.8,340 325.3,326.8 371.8,290 418.2,250.5 464.6,249.3" fill="none" stroke="#000" stroke-width="1.1"/>
<rect x="276.40000000000003" y="337.6" width="4.8" height="4.8" fill="#000"/>
<rect x="322.90000000000003" y="324.40000000000003" width="4.8" height="4.8" fill="#000"/>
<rect x="369.40000000000003" y="287.6" width="4.8" height="4.8" fill="#000"/>
<rect x="415.8" y="248.1" width="4.8" height="4.8" fill="#000"/>
<rect x="462.20000000000005" y="246.9" width="4.8" height="4.8" fill="#000"/>
<circle cx="278.8" cy="340" r="2.8" fill="#c81818"/>
<circle cx="325.3" cy="332.2" r="2.8" fill="#c81818"/>
<circle cx="371.8" cy="322.5" r="2.8" fill="#c81818"/>
<circle cx="418.2" cy="278.8" r="2.8" fill="#c81818"/>
<circle cx="464.6" cy="254.3" r="2.8" fill="#c81818"/>
<path d="M278.8,335.6 L282.0,341.2 L275.6,341.2 Z" fill="#1414c8"/>
<path d="M325.3,316.8 L328.5,322.4 L322.1,322.4 Z" fill="#1414c8"/>
<path d="M371.8,321.6 L375.0,327.2 L368.6,327.2 Z" fill="#1414c8"/>
<path d="M418.2,294.8 L421.4,300.4 L415.0,300.4 Z" fill="#1414c8"/>
<path d="M464.6,301.8 L467.8,307.4 L461.40000000000003,307.4 Z" fill="#1414c8"/>
<path d="M276.2,337.2 L278.8,335.8 L281.40000000000003,337.2 V342.6 H276.2 Z" fill="#2a0c7a"/>
<line x1="258.5" y1="225.9" x2="286.2" y2="225.9" stroke="#000" stroke-width="1.3" />
<rect x="270.6" y="223.5" width="4.8" height="4.8" fill="#000"/>
<line x1="258.5" y1="240.9" x2="286.2" y2="240.9" stroke="#d01818" stroke-width="1.3" stroke-dasharray="4,2.5"/>
<circle cx="273" cy="240.9" r="2.8" fill="#c81818"/>
<line x1="258.5" y1="256.1" x2="286.2" y2="256.1" stroke="#1a1ad0" stroke-width="1.3" stroke-dasharray="1.3,2.2"/>
<path d="M273,252.90000000000003 L276.2,258.5 L269.8,258.5 Z" fill="#1414c8"/>
<text transform="translate(289.6,230) scale(0.1,0.1130)" font-size="117.0" text-anchor="start" font-family="Liberation Serif, serif" font-weight="normal" fill="#000" style="stroke-width:1.50px" >E-sel siRNA</text>
<text transform="translate(365,230) scale(0.1,0.1130)" font-size="117.0" text-anchor="start" font-family="Liberation Serif, serif" font-weight="normal" fill="#000" style="stroke-width:1.50px" >+ sE-sel</text>
<text transform="translate(289.6,245.2) scale(0.1,0.1130)" font-size="117.0" text-anchor="start" font-family="Liberation Serif, serif" font-weight="normal" fill="#000" style="stroke-width:1.50px" >Control siRNA + BSA</text>
<text transform="translate(289.6,260.4) scale(0.1,0.1130)" font-size="117.0" text-anchor="start" font-family="Liberation Serif, serif" font-weight="normal" fill="#000" style="stroke-width:1.50px" >E-sel siRNA</text>
<text transform="translate(365,260.4) scale(0.1,0.1130)" font-size="117.0" text-anchor="start" font-family="Liberation Serif, serif" font-weight="normal" fill="#000" style="stroke-width:1.50px" >+ BSA</text>
<path d="M470.7,254.8 H479.2 V302.6 H470.7" fill="none" stroke="#888" stroke-width="1"/>
<path d="M467.8,249 H496.5 V306 H467.8" fill="none" stroke="#888" stroke-width="1"/>
<path d="M484.32,273.2 H485.68 L485.47,284.4 H484.53 Z" fill="#111"/>
<rect x="481.80" y="275.68" width="6.40" height="1.25" fill="#111"/>
<path d="M502.72,271.5 H504.07 L503.87,282.7 H502.93 Z" fill="#111"/>
<rect x="500.30" y="274.27" width="6.20" height="1.25" fill="#111"/>
<text transform="translate(210.2,288.1) scale(0.1,0.1130) rotate(-90)" font-size="107.0" text-anchor="middle" font-family="Liberation Serif, serif" style="stroke-width:0.00px" >Perfusion ratio</text>
<text transform="translate(224.4,289) scale(0.1,0.1130) rotate(-90)" font-size="109.0" text-anchor="middle" font-family="Liberation Serif, serif" style="stroke-width:0.00px" >(ischemic/non-ischemic)</text>
</svg>
</body></html>
